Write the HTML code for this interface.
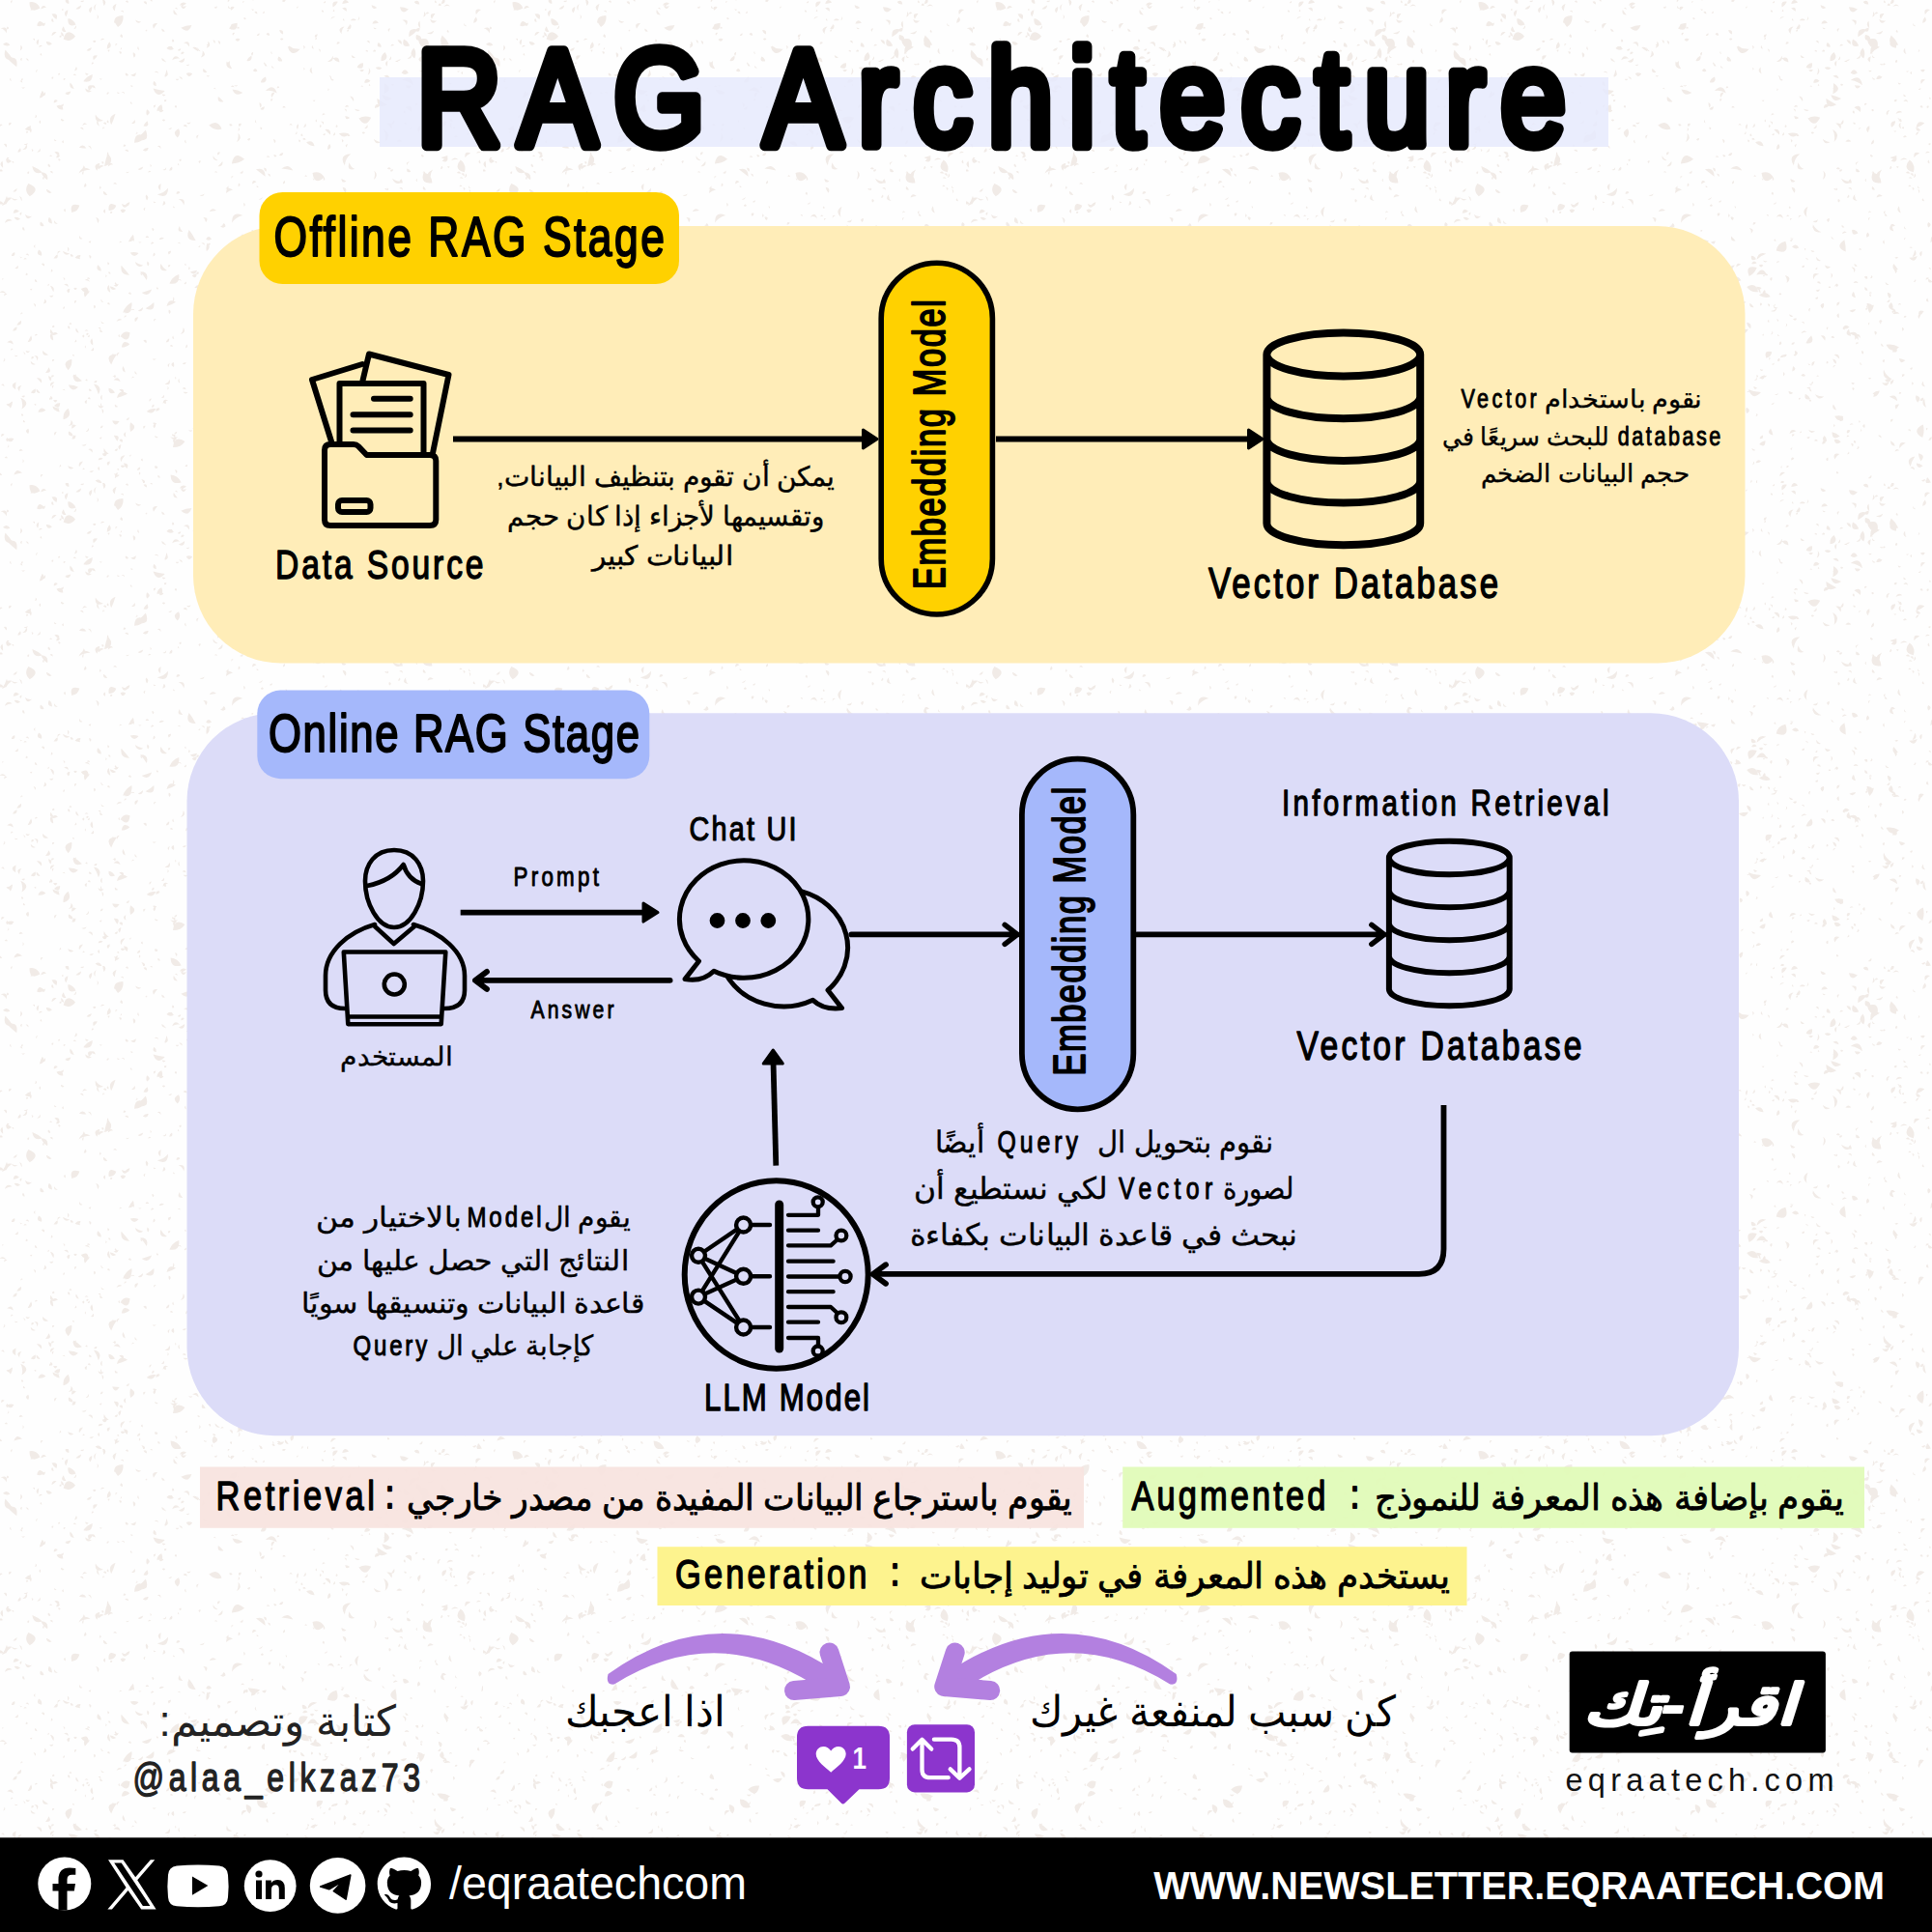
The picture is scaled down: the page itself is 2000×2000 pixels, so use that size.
<!DOCTYPE html>
<html lang="en">
<head>
<meta charset="utf-8">
<title>RAG Architecture</title>
<style>
html,body{margin:0;padding:0;background:#fefefe;}
body{width:2000px;height:2000px;overflow:hidden;font-family:"Liberation Sans", sans-serif;}
svg{display:block;font-family:"Liberation Sans", sans-serif;}
text{white-space:pre;}
</style>
</head>
<body>
<svg width="2000" height="2000" viewBox="0 0 2000 2000">
<defs><pattern id="sp" width="500" height="500" patternUnits="userSpaceOnUse"><path fill="#f1ebe7" d="M164.2 76.0Q162.7 72.1 159.6 74.9Q162.1 74.4 164.2 76.0M252.6 18.0Q252.1 21.3 254.8 19.5Q254.3 17.9 252.6 18.0M65.4 113.4Q64.6 106.6 58.4 109.8Q60.6 114.0 65.4 113.4M22.3 428.3Q21.3 431.4 24.3 430.2Q24.0 428.5 22.3 428.3M93.1 291.7Q91.4 287.6 87.6 289.9Q90.7 289.8 93.1 291.7M104.3 341.0Q104.5 337.6 101.6 339.4Q103.1 340.0 104.3 341.0M399.0 349.8Q397.7 346.1 395.4 349.2Q397.0 350.4 399.0 349.8M143.9 491.8Q147.0 490.2 144.0 488.4Q143.8 490.1 143.9 491.8M17.3 336.4Q22.8 337.3 21.9 331.8Q18.8 333.3 17.3 336.4M295.2 290.7Q298.3 292.9 299.1 289.2Q297.0 289.3 295.2 290.7M28.6 354.3Q35.2 353.1 32.1 347.2Q30.4 350.8 28.6 354.3M333.3 10.3Q332.3 13.5 335.4 12.2Q334.9 10.6 333.3 10.3M62.8 122.8Q63.1 126.6 66.5 124.8Q64.9 123.5 62.8 122.8M444.1 408.3Q439.7 406.3 439.3 411.0Q442.5 411.0 444.1 408.3M478.7 74.0Q475.9 75.8 479.0 76.9Q479.3 75.4 478.7 74.0M132.9 2.7Q132.7 -0.9 129.9 1.4Q131.1 2.7 132.9 2.7M255.9 310.2Q260.2 312.2 259.6 307.4Q256.8 307.5 255.9 310.2M399.8 197.2Q401.2 194.2 398.0 195.2Q399.6 195.6 399.8 197.2M103.1 81.1Q104.4 84.2 105.7 81.2Q104.4 81.9 103.1 81.1M179.8 10.1Q178.3 15.4 183.8 15.4Q181.6 12.9 179.8 10.1M186.0 60.6Q180.8 55.4 178.2 62.3Q181.7 59.8 186.0 60.6M50.0 169.6Q48.5 172.9 52.2 173.1Q52.3 170.6 50.0 169.6M266.4 73.7Q264.9 68.8 261.9 72.9Q263.8 75.0 266.4 73.7M347.9 132.0Q351.1 131.0 348.3 129.2Q347.2 130.4 347.9 132.0M162.4 114.7Q170.6 115.9 167.2 108.3Q162.8 110.0 162.4 114.7M367.1 112.8Q369.4 116.5 372.8 113.9Q369.9 113.7 367.1 112.8M124.7 348.3Q133.7 356.1 134.5 344.2Q127.7 341.7 124.7 348.3M181.9 108.8Q179.4 111.1 182.7 111.6Q183.5 109.9 181.9 108.8M417.1 237.9Q417.1 245.1 423.4 241.6Q421.5 237.5 417.1 237.9M390.8 376.5Q394.1 375.8 391.5 373.7Q390.2 374.8 390.8 376.5M486.2 200.1Q488.8 197.4 485.5 195.7Q486.5 197.8 486.2 200.1M74.4 454.6Q80.0 454.7 76.7 450.2Q74.7 451.9 74.4 454.6M174.0 274.6Q175.7 277.3 176.4 274.1Q175.2 274.0 174.0 274.6M465.9 213.3Q462.1 218.1 467.7 220.5Q466.3 217.0 465.9 213.3M119.1 292.0Q117.9 295.4 121.4 294.4Q120.2 293.3 119.1 292.0M224.5 294.3Q233.1 298.8 233.7 289.1Q228.7 291.0 224.5 294.3M260.3 9.3Q261.7 12.4 263.2 9.4Q261.7 10.0 260.3 9.3M239.5 362.9Q237.3 358.1 233.9 362.3Q236.6 364.0 239.5 362.9M52.8 281.7Q56.0 280.6 53.3 278.6Q52.7 280.1 52.8 281.7M381.9 456.3Q380.1 453.2 378.1 456.2Q380.0 457.0 381.9 456.3M226.9 268.7Q230.1 265.3 225.5 264.6Q224.4 267.2 226.9 268.7M125.6 274.8Q123.8 284.9 134.0 284.7Q130.0 279.6 125.6 274.8M35.9 122.2Q39.9 121.1 36.7 118.4Q37.1 120.5 35.9 122.2M356.0 330.6Q358.7 333.1 360.1 329.7Q357.8 328.8 356.0 330.6M195.7 238.1Q190.9 248.7 202.6 249.1Q199.9 243.2 195.7 238.1M167.6 97.6Q169.2 101.0 171.5 98.1Q169.6 97.8 167.6 97.6M6.1 164.5Q6.6 171.5 11.9 167.0Q9.8 163.9 6.1 164.5M485.6 53.7Q488.8 52.9 486.1 51.1Q486.6 52.5 485.6 53.7M209.5 453.5Q206.9 458.8 212.7 457.9Q211.7 455.3 209.5 453.5M351.9 43.9Q348.9 42.1 348.5 45.6Q350.8 45.9 351.9 43.9M315.3 400.0Q315.6 404.4 319.1 401.7Q317.3 400.7 315.3 400.0M166.3 273.0Q164.1 281.7 172.9 280.0Q168.8 277.3 166.3 273.0M55.3 79.4Q52.0 79.6 54.2 82.1Q55.5 81.1 55.3 79.4M143.4 249.9Q144.6 253.0 146.6 250.2Q144.9 251.0 143.4 249.9M365.0 276.2Q367.7 278.3 368.1 274.8Q366.1 274.6 365.0 276.2M219.0 247.6Q216.3 242.5 213.2 247.4Q216.0 249.9 219.0 247.6M174.1 414.2Q168.7 412.2 168.6 418.0Q170.5 415.0 174.1 414.2M63.5 33.1Q62.2 37.0 66.3 37.7Q65.9 34.8 63.5 33.1M435.7 333.8Q432.4 334.5 434.9 336.7Q434.6 335.1 435.7 333.8M229.5 133.6Q225.6 122.9 216.3 129.6Q221.7 135.7 229.5 133.6M156.4 178.0Q154.3 175.3 153.2 178.6Q154.7 177.8 156.4 178.0M253.4 1.7Q250.6 0.1 251.3 3.3Q251.8 1.7 253.4 1.7M152.1 119.6Q157.5 116.4 152.1 113.2Q150.7 116.4 152.1 119.6M438.2 193.0Q436.4 197.1 440.9 196.6Q440.2 194.3 438.2 193.0M22.5 423.5Q32.6 416.6 21.3 411.8Q24.4 417.4 22.5 423.5M260.2 255.4Q267.2 254.9 263.6 248.9Q259.7 251.1 260.2 255.4M340.6 345.7Q339.2 348.7 342.3 347.6Q340.9 347.2 340.6 345.7M419.3 282.3Q422.6 277.1 416.5 276.2Q419.5 278.5 419.3 282.3M400.6 376.8Q402.0 372.1 397.1 371.4Q398.0 374.7 400.6 376.8M125.5 35.3Q122.7 38.2 126.6 39.1Q127.7 36.8 125.5 35.3M246.8 193.2Q250.2 191.6 247.2 189.4Q246.3 191.2 246.8 193.2M39.4 71.8Q35.7 72.6 38.1 75.6Q37.7 73.3 39.4 71.8M31.9 137.5Q34.5 132.3 28.8 131.3Q30.0 134.6 31.9 137.5M231.7 231.1Q228.3 234.5 233.0 235.2Q234.1 232.6 231.7 231.1M12.5 228.3Q7.1 224.5 5.0 230.7Q8.5 228.6 12.5 228.3M475.3 105.7Q473.5 100.5 470.3 105.0Q473.0 104.2 475.3 105.7M409.4 248.3Q398.5 255.7 410.8 260.4Q410.8 254.3 409.4 248.3M13.0 0.2Q9.6 0.8 11.9 3.4Q12.3 1.7 13.0 0.2M157.0 421.8Q160.6 421.7 159.1 418.4Q156.9 419.4 157.0 421.8M357.8 449.8Q354.5 448.2 355.2 451.8Q356.8 451.2 357.8 449.8M179.3 213.3Q178.6 216.4 181.4 214.8Q180.2 214.3 179.3 213.3M467.1 123.0Q465.0 125.8 468.4 126.3Q469.1 124.2 467.1 123.0M438.5 407.4Q444.4 411.7 445.7 404.6Q441.5 404.5 438.5 407.4M26.0 367.8Q27.1 364.3 23.5 364.6Q25.5 365.6 26.0 367.8M463.9 62.1Q460.5 62.8 462.9 65.2Q464.8 64.1 463.9 62.1M131.5 326.9Q128.2 325.6 128.7 329.1Q129.7 327.5 131.5 326.9M102.7 453.8Q105.6 455.5 105.2 452.2Q103.9 452.9 102.7 453.8M68.5 95.3Q68.2 98.7 71.1 97.1Q69.6 96.5 68.5 95.3M287.4 442.1Q282.4 439.6 282.3 445.2Q284.7 443.5 287.4 442.1M167.5 29.5Q166.7 33.5 170.7 32.6Q169.6 30.6 167.5 29.5M432.6 107.1Q429.7 105.6 430.2 108.9Q432.2 109.1 432.6 107.1M424.7 437.7Q427.2 435.7 424.0 435.2Q424.2 436.5 424.7 437.7M292.6 2.0Q297.2 2.0 294.6 -1.8Q291.9 -0.8 292.6 2.0M125.0 56.1Q127.4 53.1 123.5 52.9Q123.4 54.9 125.0 56.1M321.9 382.0Q322.9 385.6 325.4 382.8Q323.6 382.9 321.9 382.0M460.0 321.4Q457.0 322.7 459.9 324.1Q460.7 322.8 460.0 321.4M58.6 33.1Q53.3 31.9 53.6 37.3Q56.5 35.7 58.6 33.1M6.6 152.5Q8.5 148.2 3.9 149.0Q5.1 150.9 6.6 152.5M119.5 117.8Q111.0 121.1 115.2 129.2Q117.9 123.7 119.5 117.8M335.5 210.9Q338.6 212.7 338.9 209.1Q337.7 210.9 335.5 210.9M168.3 212.8Q173.4 211.6 169.8 207.8Q168.7 210.2 168.3 212.8M102.4 482.9Q99.6 485.3 102.9 487.0Q103.5 484.8 102.4 482.9M147.2 474.5Q144.5 476.5 147.7 477.4Q148.1 475.9 147.2 474.5M472.9 73.4Q474.9 76.2 475.8 73.0Q474.5 74.1 472.9 73.4M30.8 203.3Q43.3 195.2 29.3 190.0Q24.2 197.3 30.8 203.3M158.5 91.5Q162.5 103.1 170.7 94.0Q164.6 93.0 158.5 91.5M187.2 164.6Q184.0 165.3 186.7 167.1Q188.3 166.1 187.2 164.6M61.2 483.6Q64.6 483.4 62.6 480.7Q61.8 482.1 61.2 483.6M23.9 234.7Q21.7 237.8 25.4 238.8Q25.8 236.3 23.9 234.7M11.7 204.5Q14.1 209.3 18.6 206.3Q14.8 206.6 11.7 204.5M462.1 125.3Q455.7 125.8 458.0 131.7Q462.1 129.8 462.1 125.3M308.9 128.3Q305.4 130.6 308.0 133.9Q309.4 131.2 308.9 128.3M457.8 312.9Q452.0 317.6 458.6 321.0Q461.1 316.7 457.8 312.9M478.6 193.2Q476.8 190.0 475.3 193.3Q476.9 192.6 478.6 193.2M404.1 371.5Q404.4 365.3 398.5 367.0Q401.5 368.9 404.1 371.5M180.9 392.6Q183.9 391.2 181.0 389.7Q181.8 391.1 180.9 392.6M15.3 277.8Q19.9 279.6 18.6 274.8Q17.3 276.7 15.3 277.8M43.9 47.6Q41.1 45.4 40.2 48.9Q42.0 48.2 43.9 47.6M312.1 340.3Q314.0 334.7 308.2 333.8Q308.7 337.9 312.1 340.3M146.3 281.6Q144.0 284.4 147.5 285.3Q146.5 283.6 146.3 281.6M78.9 440.4Q73.2 437.6 74.4 443.8Q76.9 442.4 78.9 440.4M112.5 401.8Q112.0 409.1 118.9 406.6Q117.0 402.5 112.5 401.8M419.1 456.1Q418.2 459.4 421.4 458.2Q421.3 456.1 419.1 456.1M293.6 464.4Q290.7 462.2 289.6 465.8Q291.9 466.0 293.6 464.4M472.2 49.6Q468.2 53.9 473.5 56.2Q471.8 53.1 472.2 49.6M101.0 124.2Q98.4 128.5 103.0 130.7Q101.7 127.5 101.0 124.2M338.8 94.0Q342.0 93.4 339.6 91.2Q340.0 92.8 338.8 94.0M47.9 195.8Q48.4 201.2 53.5 199.5Q51.2 196.8 47.9 195.8M205.7 139.6Q201.6 140.3 204.1 143.7Q204.7 141.6 205.7 139.6M206.6 427.3Q199.8 435.0 209.9 436.9Q206.7 432.6 206.6 427.3M4.7 449.7Q0.8 447.6 1.2 452.0Q3.0 451.0 4.7 449.7M78.4 9.2Q83.4 10.8 84.1 5.6Q80.9 6.8 78.4 9.2M186.9 252.4Q185.8 249.3 183.9 252.0Q185.5 251.5 186.9 252.4M242.0 399.1Q238.9 408.7 248.5 405.7Q248.3 399.4 242.0 399.1M237.1 29.6Q246.2 33.7 245.6 23.8Q239.7 24.2 237.1 29.6M79.2 394.3Q82.6 394.7 81.1 391.6Q80.6 393.3 79.2 394.3M107.0 197.8Q106.4 202.6 111.2 201.9Q109.8 199.1 107.0 197.8M445.2 19.7Q447.1 27.0 452.1 21.4Q448.3 22.2 445.2 19.7M302.2 273.7Q297.6 271.1 297.3 276.4Q299.8 275.1 302.2 273.7M330.4 224.3Q331.5 221.2 328.5 222.5Q329.7 223.1 330.4 224.3M383.2 389.7Q381.3 387.0 380.4 390.2Q381.7 389.3 383.2 389.7M213.6 45.4Q214.5 48.8 217.0 46.3Q215.1 46.7 213.6 45.4M369.1 388.9Q366.8 385.4 364.4 388.8Q366.7 390.4 369.1 388.9M65.6 434.2Q75.3 431.7 70.6 422.8Q64.6 427.0 65.6 434.2M244.9 482.7Q254.4 480.4 247.0 474.0Q248.4 478.9 244.9 482.7M175.8 376.0Q171.6 377.5 175.1 380.2Q174.6 377.9 175.8 376.0M252.6 460.0Q251.2 457.0 249.6 459.9Q251.1 459.0 252.6 460.0M86.3 84.3Q95.7 86.6 95.8 76.9Q89.6 78.7 86.3 84.3M55.5 267.4Q60.8 268.6 59.5 263.3Q57.1 264.9 55.5 267.4M445.9 48.7Q434.7 43.9 436.6 55.9Q440.4 51.3 445.9 48.7M497.1 288.0Q494.2 285.9 493.4 289.4Q495.5 289.5 497.1 288.0M22.3 410.1Q24.5 413.0 26.0 409.7Q24.1 409.3 22.3 410.1M157.4 1.8Q158.3 -1.3 155.3 -0.0Q156.2 1.1 157.4 1.8M445.9 65.7Q447.4 69.0 449.7 66.3Q447.8 66.2 445.9 65.7M54.7 179.5Q54.8 176.0 51.6 177.6Q52.9 179.0 54.7 179.5M234.7 63.6Q232.9 70.7 240.2 71.2Q238.3 66.7 234.7 63.6M434.1 391.0Q435.4 394.1 437.2 391.2Q435.7 390.7 434.1 391.0M175.4 325.0Q178.2 322.5 174.9 320.6Q173.9 322.9 175.4 325.0M20.6 265.2Q20.9 268.6 23.4 266.3Q21.6 266.7 20.6 265.2M276.6 471.4Q277.3 468.1 274.3 469.5Q275.1 470.9 276.6 471.4M405.2 86.9Q405.8 90.2 408.2 87.8Q407.0 86.4 405.2 86.9M361.2 2.4Q356.3 -3.0 354.2 3.9Q357.7 3.4 361.2 2.4M113.6 51.5Q110.4 51.1 112.3 53.7Q113.6 53.0 113.6 51.5M424.3 355.1Q421.4 352.8 421.0 356.5Q422.8 356.1 424.3 355.1M129.3 324.2Q136.2 324.8 136.0 317.8Q133.1 321.5 129.3 324.2M121.0 366.4Q107.6 366.5 115.2 377.5Q117.3 371.6 121.0 366.4M121.3 456.8Q125.5 450.3 117.8 450.8Q119.3 454.0 121.3 456.8M420.3 351.8Q424.7 348.0 419.4 345.8Q420.3 348.7 420.3 351.8M104.7 309.6Q103.6 313.2 107.3 313.0Q105.4 311.8 104.7 309.6M463.2 172.1Q463.7 175.3 465.7 172.8Q464.6 171.9 463.2 172.1M349.7 367.0Q345.9 366.2 347.3 369.8Q349.4 369.2 349.7 367.0M442.0 34.3Q447.2 37.3 449.3 31.7Q445.9 33.7 442.0 34.3M58.4 20.0Q61.0 12.7 53.5 14.5Q55.0 18.1 58.4 20.0M143.1 48.0Q140.8 50.8 144.2 51.9Q143.7 49.9 143.1 48.0M11.8 126.9Q8.2 126.3 9.1 129.8Q11.5 129.3 11.8 126.9M253.8 424.5Q250.1 422.8 249.9 426.9Q252.4 426.6 253.8 424.5M171.7 354.3Q175.8 354.3 175.1 350.3Q172.6 351.6 171.7 354.3M83.2 0.9Q85.6 3.6 87.2 0.4Q85.2 0.4 83.2 0.9M246.7 397.0Q243.1 396.5 244.7 399.8Q245.4 398.1 246.7 397.0M473.9 141.8Q471.9 138.9 470.0 141.9Q471.9 142.4 473.9 141.8M43.0 396.6Q44.1 390.4 37.9 391.3Q40.5 393.9 43.0 396.6M195.2 444.9Q196.8 448.2 199.4 445.5Q197.2 445.6 195.2 444.9M450.4 248.5Q447.4 250.9 450.8 252.7Q450.9 250.6 450.4 248.5M378.6 374.0Q374.1 374.9 375.9 379.0Q378.4 377.1 378.6 374.0M330.8 372.7Q334.0 371.4 331.3 369.3Q331.8 371.1 330.8 372.7M231.5 441.2Q228.2 441.6 230.6 443.9Q232.1 442.9 231.5 441.2M78.9 78.2Q77.7 75.0 75.7 77.8Q77.3 77.8 78.9 78.2M92.3 488.1Q95.3 490.5 97.0 487.0Q94.7 487.6 92.3 488.1M490.9 394.6Q487.2 399.1 492.9 400.3Q490.7 397.9 490.9 394.6M102.8 195.8Q106.1 194.9 103.6 192.6Q103.0 194.1 102.8 195.8M317.7 230.6Q314.3 228.9 314.7 232.7Q317.0 232.8 317.7 230.6M214.6 284.0Q209.8 287.7 215.4 289.9Q217.1 286.7 214.6 284.0M389.2 352.7Q391.1 346.8 384.9 347.4Q387.4 349.8 389.2 352.7M314.6 50.9Q317.4 48.2 313.7 47.0Q314.6 48.8 314.6 50.9M213.1 230.2Q216.9 225.0 210.4 225.0Q212.8 227.1 213.1 230.2M325.5 389.4Q327.7 392.1 329.0 388.8Q327.2 388.8 325.5 389.4M75.9 387.6Q75.1 398.1 84.9 394.2Q81.0 390.1 75.9 387.6M362.3 256.6Q359.4 250.7 355.0 255.6Q358.3 258.6 362.3 256.6M103.6 340.8Q102.3 345.1 106.5 343.6Q104.9 342.3 103.6 340.8M29.4 136.6Q26.8 134.6 27.2 137.8Q28.7 137.8 29.4 136.6M174.2 133.3Q177.2 135.5 177.9 131.8Q176.3 133.1 174.2 133.3M400.5 197.3Q403.7 196.5 401.0 194.6Q400.2 195.9 400.5 197.3M235.9 279.3Q231.6 278.8 233.2 282.8Q235.6 281.8 235.9 279.3M406.8 232.8Q405.7 236.4 409.4 235.3Q408.0 234.2 406.8 232.8M426.7 133.0Q424.0 131.0 424.0 134.4Q424.9 132.8 426.7 133.0M362.4 140.4Q360.5 137.6 359.4 140.8Q361.0 141.2 362.4 140.4M323.5 178.9Q325.4 192.6 335.8 183.5Q331.4 176.5 323.5 178.9M388.7 69.9Q391.7 73.9 395.4 70.5Q392.2 68.5 388.7 69.9M327.8 123.6Q325.0 125.3 328.1 126.4Q327.8 125.0 327.8 123.6M74.4 453.7Q79.0 455.3 78.3 450.4Q75.5 451.0 74.4 453.7M333.0 443.4Q328.2 449.0 335.4 450.5Q334.8 446.7 333.0 443.4M371.5 213.7Q363.6 218.6 370.4 224.9Q369.2 219.1 371.5 213.7M247.9 29.2Q246.4 26.2 245.1 29.3Q246.6 29.6 247.9 29.2M434.3 4.5Q433.4 -1.5 428.6 2.1Q430.7 5.1 434.3 4.5M190.2 212.6Q192.8 204.8 184.7 206.2Q189.2 207.9 190.2 212.6M299.9 341.9Q305.7 349.0 309.8 340.7Q304.8 340.8 299.9 341.9M450.5 14.1Q443.5 13.6 447.0 19.8Q448.6 16.8 450.5 14.1M239.7 261.7Q235.7 259.2 234.9 263.8Q237.5 263.2 239.7 261.7M416.3 146.5Q413.5 142.5 410.4 146.4Q413.4 146.8 416.3 146.5M488.7 324.7Q484.0 325.7 486.3 329.9Q488.0 327.5 488.7 324.7M315.9 393.4Q319.5 394.5 318.9 390.8Q318.0 392.8 315.9 393.4M151.9 4.5Q152.5 0.3 148.5 1.7Q149.5 4.0 151.9 4.5M456.0 309.0Q460.1 304.1 453.8 302.7Q453.7 306.3 456.0 309.0M104.6 332.3Q104.5 335.9 107.9 334.7Q105.7 334.3 104.6 332.3M386.0 459.6Q392.0 459.3 388.5 454.4Q386.7 456.7 386.0 459.6M130.4 150.4Q127.7 148.3 127.6 151.7Q129.6 152.2 130.4 150.4M26.8 285.0Q30.1 284.9 27.8 282.5Q26.1 283.3 26.8 285.0M221.5 7.8Q224.6 10.4 224.9 6.4Q223.2 6.9 221.5 7.8M204.7 48.9Q203.8 52.8 207.7 53.2Q205.4 51.6 204.7 48.9M339.0 64.0Q345.7 64.4 344.8 57.7Q343.1 62.0 339.0 64.0M357.2 120.3Q358.2 125.5 362.1 121.9Q360.0 120.0 357.2 120.3M428.2 366.7Q430.6 364.1 427.3 363.0Q426.5 365.2 428.2 366.7M124.8 481.9Q126.7 486.0 129.3 482.4Q127.1 480.8 124.8 481.9M38.2 157.5Q42.8 158.0 41.5 153.6Q40.7 156.3 38.2 157.5M182.6 286.0Q181.0 289.6 185.0 289.0Q183.7 287.6 182.6 286.0M322.1 316.4Q325.6 315.6 322.8 313.3Q321.5 314.6 322.1 316.4M284.1 148.3Q287.3 145.0 282.8 144.1Q283.7 146.1 284.1 148.3M304.1 485.6Q298.3 487.0 301.7 491.8Q304.8 489.4 304.1 485.6M187.0 346.0Q193.2 344.2 189.7 338.8Q190.0 343.0 187.0 346.0M128.7 213.6Q134.2 214.4 134.3 208.9Q130.5 210.1 128.7 213.6M404.3 435.8Q409.9 436.6 407.5 431.4Q404.9 432.9 404.3 435.8M456.3 175.2Q459.7 174.3 457.4 171.7Q456.0 173.2 456.3 175.2M469.2 116.3Q464.9 112.7 462.5 117.8Q465.7 116.4 469.2 116.3M375.1 397.1Q378.4 396.9 376.0 394.6Q376.0 396.0 375.1 397.1M295.3 447.6Q288.5 439.5 284.3 449.3Q289.5 446.8 295.3 447.6M98.8 91.5Q97.8 86.5 93.5 89.2Q96.0 90.7 98.8 91.5M70.5 19.1Q69.2 29.0 78.5 25.5Q76.2 20.2 70.5 19.1M76.3 298.4Q77.7 301.6 79.8 298.8Q78.3 297.1 76.3 298.4M432.5 245.8Q437.0 243.9 433.5 240.5Q431.2 242.8 432.5 245.8M379.0 408.3Q382.2 415.3 388.3 410.5Q383.3 410.6 379.0 408.3M45.5 24.5Q39.9 18.4 38.2 26.5Q42.6 28.5 45.5 24.5M30.8 299.4Q32.9 301.9 33.4 298.7Q32.0 298.7 30.8 299.4M323.1 477.3Q319.2 474.7 317.5 479.1Q320.9 479.8 323.1 477.3M496.8 109.7Q493.5 109.1 495.0 112.1Q496.9 111.6 496.8 109.7M420.7 26.3Q424.1 19.3 416.5 20.7Q420.3 22.3 420.7 26.3M74.2 371.7Q63.0 374.5 70.6 383.2Q75.2 378.3 74.2 371.7M54.1 161.8Q52.4 159.0 51.3 162.1Q52.7 161.5 54.1 161.8M70.9 337.0Q68.8 339.8 72.2 340.7Q72.8 338.4 70.9 337.0M107.8 464.1Q105.9 470.6 112.7 469.9Q109.1 468.0 107.8 464.1M466.0 418.6Q459.7 418.1 462.8 423.7Q464.7 421.3 466.0 418.6M314.4 72.7Q317.0 70.7 313.8 70.1Q314.8 71.2 314.4 72.7M435.5 131.8Q432.4 132.8 435.2 134.6Q435.2 133.2 435.5 131.8M82.3 244.1Q81.1 248.7 85.5 246.9Q83.1 246.5 82.3 244.1M447.9 332.5Q444.6 333.5 447.1 335.8Q447.0 334.0 447.9 332.5M176.6 491.6Q176.8 503.0 187.7 499.4Q184.3 492.4 176.6 491.6M26.5 363.0Q28.3 367.3 31.0 363.5Q28.7 363.5 26.5 363.0M68.8 -2.0Q65.7 2.8 71.3 3.9Q71.9 0.2 68.8 -2.0M108.9 287.1Q112.1 286.1 109.3 284.3Q109.7 285.7 108.9 287.1M40.1 40.6Q35.7 43.1 39.2 46.8Q40.3 43.8 40.1 40.6M351.5 404.7Q352.0 410.0 356.3 406.8Q353.9 405.8 351.5 404.7M359.3 30.1Q365.3 30.6 362.4 25.3Q360.5 27.5 359.3 30.1M7.9 453.0Q4.7 454.8 7.5 457.2Q8.8 455.2 7.9 453.0M181.7 81.7Q183.5 84.7 185.4 81.8Q183.6 81.7 181.7 81.7M255.4 63.1Q261.6 63.8 260.3 57.6Q256.8 59.5 255.4 63.1M188.7 376.3Q191.6 378.8 192.7 375.1Q190.6 375.4 188.7 376.3M264.9 266.5Q262.3 269.2 265.6 270.9Q264.5 268.8 264.9 266.5M125.7 409.9Q128.1 407.6 124.8 407.3Q126.2 408.3 125.7 409.9M296.9 286.1Q295.8 293.5 302.5 290.3Q300.7 286.9 296.9 286.1M22.9 59.8Q19.6 61.0 22.3 63.2Q22.6 61.5 22.9 59.8M70.7 297.0Q70.4 291.9 66.2 294.8Q68.9 295.1 70.7 297.0M412.1 470.2Q415.5 470.4 413.9 467.4Q413.0 468.8 412.1 470.2M471.4 387.2Q468.1 386.9 469.9 389.7Q471.9 389.2 471.4 387.2M398.7 455.2Q400.3 461.9 405.7 457.6Q403.1 453.8 398.7 455.2M468.4 123.2Q464.9 122.7 465.9 126.1Q466.5 124.1 468.4 123.2M215.2 252.7Q217.1 255.3 217.9 252.1Q216.3 251.1 215.2 252.7M310.1 403.2Q314.2 415.5 323.1 406.1Q316.3 406.0 310.1 403.2M342.0 139.4Q342.8 133.0 336.4 134.0Q338.9 137.1 342.0 139.4M217.8 476.7Q219.2 473.6 215.9 474.2Q216.5 475.7 217.8 476.7M479.7 257.3Q478.7 254.0 476.4 256.5Q478.2 256.2 479.7 257.3M65.6 145.3Q62.7 146.9 65.7 148.3Q66.0 146.8 65.6 145.3M418.9 301.7Q414.3 306.8 420.9 308.2Q420.1 304.9 418.9 301.7M273.9 304.8Q271.0 306.5 274.1 308.0Q274.3 306.4 273.9 304.8M190.5 294.1Q193.9 294.8 192.6 291.6Q191.3 292.6 190.5 294.1M245.0 147.2Q251.7 143.3 246.4 137.6Q247.5 142.7 245.0 147.2M437.2 219.4Q434.5 217.2 434.1 220.6Q435.4 219.3 437.2 219.4M113.9 477.5Q109.5 477.8 111.3 481.8Q113.3 480.1 113.9 477.5M308.4 428.1Q313.7 424.6 307.9 421.8Q306.5 425.1 308.4 428.1M234.9 389.7Q232.4 397.5 240.3 395.2Q235.8 394.2 234.9 389.7M384.8 293.9Q384.3 290.0 380.8 292.0Q382.4 293.8 384.8 293.9M438.0 303.2Q435.6 300.8 434.7 304.1Q436.3 303.4 438.0 303.2M195.0 279.2Q198.3 278.4 195.7 276.1Q195.1 277.6 195.0 279.2M223.3 92.7Q223.4 89.4 220.8 91.5Q222.4 91.4 223.3 92.7M456.5 162.9Q461.3 166.5 463.7 161.0Q460.1 161.9 456.5 162.9M457.1 5.3Q455.2 1.8 453.5 5.4Q455.3 6.4 457.1 5.3M270.5 502.1Q273.5 497.4 268.0 496.3Q269.4 499.1 270.5 502.1M303.3 176.5Q298.5 168.5 291.4 174.6Q297.4 175.3 303.3 176.5M196.8 281.5Q201.7 286.4 204.1 279.8Q200.4 280.5 196.8 281.5M311.6 499.7Q315.0 499.3 313.0 496.4Q312.5 498.2 311.6 499.7M487.3 414.5Q491.8 416.3 491.1 411.5Q488.3 411.9 487.3 414.5M495.5 442.7Q492.2 443.3 494.8 445.4Q495.4 444.1 495.5 442.7M96.1 88.6Q88.8 87.2 92.1 93.8Q95.1 92.0 96.1 88.6M22.2 208.3Q24.0 204.6 20.1 203.1Q21.4 205.6 22.2 208.3M423.7 293.1Q421.0 289.0 418.5 293.1Q421.1 292.6 423.7 293.1M328.3 262.7Q319.7 259.9 318.6 268.8Q322.6 264.5 328.3 262.7M381.2 53.5Q380.2 50.4 378.3 53.1Q379.7 53.8 381.2 53.5M404.2 29.2Q400.1 29.5 402.4 32.9Q403.1 31.0 404.2 29.2M86.6 134.4Q86.2 130.7 82.8 132.2Q84.7 133.4 86.6 134.4M187.3 28.8Q195.0 35.7 198.4 25.9Q192.4 25.9 187.3 28.8M127.3 16.0Q113.2 17.0 122.1 28.0Q128.6 23.7 127.3 16.0M146.6 303.0Q154.1 308.2 157.1 299.6Q151.9 301.4 146.6 303.0M361.3 110.5Q358.9 106.9 357.1 110.9Q359.2 110.2 361.3 110.5M87.3 177.0Q83.3 178.3 86.2 181.3Q85.9 179.0 87.3 177.0M265.9 191.9Q264.8 194.9 267.8 193.7Q266.8 192.9 265.9 191.9M121.0 95.3Q121.8 98.5 123.9 95.9Q122.4 95.8 121.0 95.3M77.2 354.2Q80.5 354.5 78.7 351.6Q77.9 352.9 77.2 354.2M418.4 404.0Q421.1 402.0 417.9 400.9Q416.8 402.7 418.4 404.0M106.6 474.7Q103.1 472.4 101.5 476.2Q104.3 476.2 106.6 474.7M130.3 446.9Q125.6 449.9 130.4 452.7Q129.6 449.8 130.3 446.9M436.6 58.2Q430.5 60.7 435.8 64.6Q436.1 61.4 436.6 58.2M327.4 283.0Q327.2 286.4 330.2 284.7Q329.3 282.9 327.4 283.0M161.7 330.0Q158.2 329.4 159.4 332.8Q160.3 331.2 161.7 330.0M33.2 157.0Q35.9 155.0 32.7 154.3Q33.0 155.6 33.2 157.0M450.0 382.6Q447.9 393.5 458.9 392.4Q452.3 389.4 450.0 382.6M340.7 333.2Q342.3 330.2 338.9 330.4Q340.2 331.6 340.7 333.2M421.4 174.4Q420.1 179.8 425.3 177.8Q424.3 175.0 421.4 174.4M355.8 18.9Q353.5 21.2 356.7 21.6Q356.2 20.3 355.8 18.9M18.3 157.6Q23.1 157.7 21.0 153.3Q18.7 154.9 18.3 157.6M124.5 217.4Q127.3 222.8 130.2 217.5Q127.4 215.8 124.5 217.4M140.0 20.5Q141.9 25.7 146.3 22.5Q142.8 22.5 140.0 20.5M390.4 101.9Q390.2 114.3 401.1 108.3Q395.6 105.2 390.4 101.9M372.5 414.8Q374.8 417.2 375.0 413.9Q373.3 413.1 372.5 414.8M349.0 368.3Q344.7 365.6 342.6 370.3Q346.1 370.2 349.0 368.3M213.8 260.3Q219.2 256.3 214.5 251.6Q212.9 255.8 213.8 260.3M405.4 133.6Q407.6 126.5 400.3 127.6Q403.5 130.0 405.4 133.6M30.2 177.6Q26.9 177.8 29.2 180.3Q30.4 179.2 30.2 177.6M336.8 118.3Q334.0 115.7 333.5 119.5Q335.1 118.8 336.8 118.3M150.6 440.8Q146.8 440.7 148.8 443.9Q150.0 442.5 150.6 440.8M383.5 83.8Q378.8 78.9 377.1 85.4Q380.8 86.6 383.5 83.8M55.9 144.1Q56.1 147.5 58.6 145.2Q57.0 145.2 55.9 144.1M352.4 223.7Q350.2 221.1 349.3 224.3Q350.7 223.4 352.4 223.7M30.5 2.3Q30.4 14.8 41.3 8.6Q38.6 0.9 30.5 2.3M281.2 52.8Q279.0 55.5 282.4 56.0Q280.9 54.8 281.2 52.8M462.0 325.4Q464.0 319.3 457.5 319.1Q460.4 321.8 462.0 325.4M70.4 10.3Q64.8 12.5 68.3 17.4Q70.2 14.1 70.4 10.3M421.9 465.1Q426.0 465.1 423.8 461.6Q423.1 463.5 421.9 465.1M93.8 413.2Q93.2 409.8 90.7 412.2Q91.9 413.7 93.8 413.2M118.3 23.7Q125.0 23.1 121.1 17.6Q117.5 19.6 118.3 23.7M472.9 245.9Q469.6 246.3 472.0 248.5Q471.7 246.9 472.9 245.9M342.1 80.6Q342.4 84.4 345.9 83.0Q344.0 81.8 342.1 80.6M94.1 363.1Q98.4 363.8 96.7 359.8Q95.4 361.4 94.1 363.1M143.2 328.3Q137.8 328.5 140.0 333.3Q142.4 331.3 143.2 328.3M414.5 451.5Q412.0 449.2 411.6 452.5Q413.0 451.8 414.5 451.5M96.0 42.8Q98.3 45.7 99.4 42.2Q97.5 41.3 96.0 42.8M483.8 479.6Q484.9 486.7 490.6 482.3Q487.6 479.9 483.8 479.6M151.8 289.9Q154.5 281.1 145.2 281.2Q148.9 285.3 151.8 289.9M444.4 13.3Q441.6 11.1 440.7 14.5Q442.8 14.5 444.4 13.3M187.6 291.1Q187.2 287.6 184.4 289.7Q186.3 289.7 187.6 291.1M88.7 446.9Q92.7 447.1 91.8 443.1Q90.9 445.6 88.7 446.9M265.1 124.0Q262.4 126.2 265.7 127.6Q264.6 125.9 265.1 124.0M255.1 293.5Q255.3 296.9 258.1 295.0Q257.1 293.2 255.1 293.5M272.8 357.4Q275.5 361.6 277.7 357.2Q275.3 358.4 272.8 357.4M417.1 196.8Q416.6 192.3 413.1 195.1Q415.5 195.1 417.1 196.8M386.5 28.6Q387.8 31.8 389.7 28.9Q388.0 29.3 386.5 28.6M151.5 355.2Q152.7 350.8 148.4 352.2Q149.6 354.1 151.5 355.2M459.8 433.7Q455.8 433.4 457.7 437.1Q459.4 435.8 459.8 433.7M410.9 62.0Q413.9 64.7 414.7 60.7Q413.2 62.4 410.9 62.0M299.1 47.4Q297.3 55.2 304.7 52.2Q302.9 48.6 299.1 47.4M129.1 97.6Q128.8 94.0 125.5 95.6Q127.8 95.7 129.1 97.6M55.7 398.6Q52.2 399.6 54.8 402.1Q55.1 400.3 55.7 398.6M70.9 440.9Q78.4 440.1 73.4 434.5Q74.3 438.5 70.9 440.9M170.0 79.1Q175.2 76.8 172.4 71.9Q172.0 75.7 170.0 79.1M408.2 338.3Q406.5 341.5 410.1 341.2Q409.1 339.8 408.2 338.3M436.2 303.9Q433.6 306.1 436.8 307.0Q437.0 305.3 436.2 303.9M23.3 85.7Q23.2 82.2 20.3 84.1Q21.9 84.7 23.3 85.7M4.2 289.3Q2.2 286.7 1.8 289.9Q2.8 288.7 4.2 289.3M74.4 335.5Q72.9 332.5 71.4 335.5Q72.9 335.9 74.4 335.5M267.9 480.0Q266.8 471.6 260.3 477.0Q263.0 481.2 267.9 480.0M387.7 313.7Q382.0 315.5 386.6 319.4Q389.2 317.0 387.7 313.7M469.5 342.7Q472.5 340.5 469.2 338.7Q468.7 340.7 469.5 342.7M175.9 274.3Q172.7 273.8 174.5 276.5Q176.5 276.1 175.9 274.3M241.6 182.4Q238.3 181.9 239.9 184.8Q239.9 183.0 241.6 182.4M436.1 224.8Q432.6 225.6 434.9 228.3Q434.7 226.3 436.1 224.8M147.8 155.5Q152.5 158.4 153.7 153.0Q150.0 152.4 147.8 155.5M289.8 40.2Q291.9 43.0 293.5 39.9Q291.6 39.1 289.8 40.2M212.7 435.2Q215.9 436.6 215.5 433.1Q214.4 434.5 212.7 435.2M11.1 80.4Q8.6 82.9 11.9 84.2Q11.0 82.4 11.1 80.4M301.7 434.6Q306.5 431.5 301.2 429.5Q300.6 432.1 301.7 434.6M37.8 402.6Q36.9 407.1 41.5 406.9Q39.9 404.5 37.8 402.6M439.9 315.8Q430.4 316.1 435.6 324.1Q439.2 320.7 439.9 315.8M203.8 338.8Q201.1 336.9 201.5 340.2Q202.9 340.0 203.8 338.8M169.9 246.6Q166.6 244.3 164.6 247.8Q167.6 248.5 169.9 246.6M282.4 495.6Q285.0 493.3 281.8 491.9Q282.9 493.6 282.4 495.6M77.2 73.5Q81.4 72.7 79.0 69.1Q77.7 71.2 77.2 73.5M295.9 274.6Q289.1 274.7 292.6 280.4Q293.6 277.1 295.9 274.6M355.3 384.4Q361.2 382.4 356.1 378.9Q355.5 381.6 355.3 384.4M134.7 261.4Q138.8 268.4 143.5 261.9Q139.2 260.3 134.7 261.4M386.9 185.9Q392.6 181.5 387.3 176.6Q388.9 181.3 386.9 185.9M65.7 27.2Q61.4 32.7 68.4 33.0Q66.8 30.2 65.7 27.2M72.6 85.4Q71.0 91.0 76.7 92.0Q75.8 88.0 72.6 85.4M122.3 489.6Q118.4 489.2 120.2 492.7Q121.4 491.2 122.3 489.6M160.1 451.0Q160.6 454.8 163.7 452.5Q161.9 451.8 160.1 451.0M429.4 31.4Q434.8 35.0 434.6 28.5Q431.5 29.1 429.4 31.4M111.8 124.3Q109.1 126.3 112.2 127.6Q112.9 125.9 111.8 124.3M325.6 151.2Q323.8 144.0 317.1 147.3Q320.4 151.2 325.6 151.2M435.4 130.0Q429.6 132.6 433.9 137.3Q434.9 133.7 435.4 130.0M448.6 79.8Q443.9 75.7 442.3 81.8Q446.1 82.8 448.6 79.8M103.6 443.3Q107.2 443.7 106.2 440.2Q104.0 441.0 103.6 443.3M496.1 149.0Q497.9 151.8 498.8 148.6Q497.2 147.5 496.1 149.0M76.0 369.3Q78.1 366.8 74.8 366.7Q75.6 367.9 76.0 369.3M452.5 356.8Q457.4 367.1 466.0 359.6Q459.9 355.3 452.5 356.8M347.1 17.8Q343.4 16.1 342.3 20.1Q344.3 18.0 347.1 17.8M497.8 158.0Q495.2 155.2 492.9 158.4Q495.4 158.3 497.8 158.0M91.5 342.7Q89.5 339.7 87.5 342.7Q89.5 342.5 91.5 342.7M246.7 459.6Q248.7 462.3 249.6 459.0Q248.0 458.5 246.7 459.6M135.2 88.3Q135.7 91.5 137.8 89.0Q136.5 88.6 135.2 88.3M279.4 182.9Q280.8 179.5 277.2 179.7Q278.0 181.5 279.4 182.9M348.0 489.1Q342.3 487.3 342.3 493.3Q345.2 491.2 348.0 489.1M485.4 192.2Q483.9 195.6 487.5 194.8Q485.6 194.3 485.4 192.2M305.2 461.8Q301.8 461.0 302.6 464.4Q303.5 462.8 305.2 461.8M54.4 420.4Q56.1 427.8 61.7 422.7Q57.9 422.0 54.4 420.4M320.9 274.5Q323.1 278.4 325.3 274.5Q323.1 273.0 320.9 274.5M258.3 299.6Q261.1 290.4 251.8 292.7Q255.2 296.0 258.3 299.6M357.6 199.7Q360.2 194.7 354.6 193.8Q355.3 197.1 357.6 199.7M269.3 113.1Q273.8 115.1 273.8 110.2Q270.9 110.7 269.3 113.1M259.8 238.9Q262.3 241.0 262.3 237.7Q260.9 238.1 259.8 238.9M263.1 408.0Q266.4 408.0 264.4 405.4Q263.2 406.4 263.1 408.0M415.4 445.4Q410.8 443.9 412.0 448.6Q414.7 448.1 415.4 445.4M62.4 75.9Q59.2 75.1 60.7 78.0Q61.7 77.1 62.4 75.9M227.2 46.1Q229.6 42.9 225.6 41.9Q226.2 44.1 227.2 46.1M400.4 378.0Q396.9 377.4 397.8 380.8Q398.8 379.1 400.4 378.0M185.0 168.8Q182.5 171.0 185.8 171.3Q184.5 170.3 185.0 168.8M89.1 357.5Q86.2 359.2 89.3 360.7Q88.4 359.1 89.1 357.5M317.6 431.1Q321.0 430.2 318.5 427.8Q318.2 429.5 317.6 431.1M22.5 219.4Q19.1 220.4 21.4 223.1Q22.5 221.4 22.5 219.4M403.8 177.0Q406.8 178.8 407.0 175.3Q404.8 174.9 403.8 177.0M353.4 185.0Q353.8 190.7 358.5 187.4Q355.9 186.3 353.4 185.0M256.7 247.3Q261.3 258.4 269.1 249.3Q263.0 247.9 256.7 247.3M229.8 420.9Q233.0 422.1 232.4 418.7Q231.0 419.6 229.8 420.9M258.8 410.3Q253.6 409.1 253.0 414.4Q256.4 413.1 258.8 410.3M276.5 382.2Q274.0 385.2 277.4 387.0Q277.9 384.4 276.5 382.2M47.8 43.0Q49.0 49.3 53.9 45.2Q51.3 42.8 47.8 43.0M244.0 28.9Q244.4 22.2 238.8 25.9Q240.4 29.2 244.0 28.9M434.2 72.7Q435.8 76.3 437.7 72.8Q436.0 73.2 434.2 72.7M133.2 157.2Q132.3 153.4 129.2 155.8Q131.2 156.5 133.2 157.2M23.3 155.1Q29.4 155.3 27.8 149.4Q26.3 152.8 23.3 155.1M27.8 268.3Q25.8 265.4 24.3 268.5Q26.0 268.3 27.8 268.3M395.3 98.3Q398.2 107.6 406.1 101.9Q401.0 99.4 395.3 98.3M204.0 283.9Q207.3 283.3 204.9 281.0Q203.7 282.2 204.0 283.9M403.3 295.3Q399.8 292.2 399.2 296.8Q400.8 294.9 403.3 295.3M215.0 318.7Q215.4 322.7 218.8 320.6Q216.6 320.2 215.0 318.7M462.6 283.3Q465.9 278.1 459.8 277.8Q461.7 280.3 462.6 283.3M104.9 417.1Q102.6 420.0 106.1 421.2Q104.7 419.4 104.9 417.1M392.2 473.5Q388.5 475.3 392.0 477.3Q393.0 475.5 392.2 473.5M76.2 30.3Q80.1 30.0 78.6 26.3Q77.8 28.6 76.2 30.3M288.9 160.7Q292.9 162.3 293.2 158.0Q290.4 158.3 288.9 160.7M70.9 398.6Q74.4 407.0 81.0 400.7Q76.2 398.3 70.9 398.6M111.9 274.6Q114.7 272.5 111.4 271.2Q111.0 273.0 111.9 274.6M55.0 414.3Q57.3 418.5 59.4 414.2Q57.2 413.8 55.0 414.3M142.6 175.3Q147.0 177.3 148.2 172.6Q145.3 173.8 142.6 175.3M430.5 297.0Q429.5 301.0 433.5 300.7Q433.0 298.0 430.5 297.0M426.0 116.0Q427.4 107.0 419.4 111.2Q423.0 113.2 426.0 116.0M473.7 327.8Q471.3 325.4 470.7 328.8Q472.5 329.1 473.7 327.8M90.7 394.3Q90.5 391.1 88.2 393.4Q89.3 394.2 90.7 394.3M395.3 297.9Q394.2 294.8 392.7 297.7Q393.9 298.4 395.3 297.9M66.8 290.4Q68.5 287.4 65.1 287.6Q66.5 288.7 66.8 290.4M474.5 165.3Q470.2 161.2 467.0 166.3Q470.6 164.6 474.5 165.3M438.2 57.3Q437.5 60.8 440.9 59.7Q439.1 59.0 438.2 57.3M268.9 252.6Q266.0 250.9 266.5 254.2Q267.3 252.8 268.9 252.6M116.2 435.4Q119.2 443.2 123.7 436.1Q120.0 435.3 116.2 435.4M395.5 287.9Q398.8 285.2 395.5 282.6Q395.9 285.2 395.5 287.9M13.3 198.4Q17.5 199.1 17.6 194.9Q15.2 196.3 13.3 198.4M113.7 296.3Q115.2 301.9 120.2 299.0Q117.2 297.0 113.7 296.3M490.1 23.8Q496.0 22.5 492.8 17.4Q490.0 20.0 490.1 23.8M232.8 459.3Q229.2 457.7 229.0 461.6Q230.4 459.7 232.8 459.3M123.8 364.8Q119.9 365.2 121.0 369.0Q122.0 366.6 123.8 364.8M108.0 172.3Q120.2 168.3 111.6 158.8Q109.1 165.3 108.0 172.3M388.6 450.9Q384.3 455.8 390.7 457.2Q391.6 453.4 388.6 450.9M391.8 43.8Q388.5 49.1 394.8 48.6Q394.4 45.5 391.8 43.8M369.6 69.7Q376.7 73.2 376.0 65.3Q371.4 65.4 369.6 69.7M400.6 297.2Q404.9 296.0 401.5 293.2Q401.5 295.3 400.6 297.2M476.2 266.7Q482.0 273.5 484.7 265.0Q480.7 266.9 476.2 266.7M419.0 114.3Q416.2 116.3 419.3 117.7Q420.4 115.9 419.0 114.3M342.1 357.2Q346.0 356.1 343.2 353.2Q341.2 354.8 342.1 357.2M411.9 204.8Q415.5 204.7 413.9 201.5Q412.5 202.9 411.9 204.8M416.4 396.3Q417.8 399.5 419.9 396.7Q418.3 395.5 416.4 396.3M209.0 300.8Q206.4 303.1 209.7 303.9Q210.4 302.1 209.0 300.8M310.1 147.5Q312.5 145.2 309.2 144.6Q309.0 146.3 310.1 147.5M402.5 62.4Q406.3 61.7 404.6 58.3Q403.9 60.5 402.5 62.4M480.5 182.6Q481.5 178.1 477.2 179.8Q478.9 181.1 480.5 182.6M248.4 474.2Q243.0 480.6 251.3 481.6Q248.4 478.5 248.4 474.2M265.7 -0.4Q262.5 -3.7 261.5 0.8Q263.4 -0.4 265.7 -0.4M179.9 50.8Q176.6 45.1 172.4 50.1Q175.9 52.8 179.9 50.8M448.7 332.5Q445.6 329.7 445.1 333.8Q446.8 333.0 448.7 332.5M331.4 317.5Q333.6 314.4 329.8 314.4Q330.4 316.1 331.4 317.5M182.7 490.0Q184.9 486.7 181.0 486.2Q181.8 488.1 182.7 490.0M372.1 444.8Q374.5 450.4 379.0 446.3Q375.3 446.7 372.1 444.8M478.1 446.6Q477.9 443.0 474.9 444.9Q476.5 445.7 478.1 446.6M374.2 318.8Q370.6 319.9 373.2 322.7Q373.7 320.8 374.2 318.8M491.6 322.1Q484.5 319.5 486.6 326.7Q490.2 325.6 491.6 322.1M344.6 140.4Q348.4 140.3 346.3 137.1Q345.6 138.8 344.6 140.4M70.1 260.5Q73.1 257.8 69.8 255.5Q70.2 258.0 70.1 260.5M24.6 149.3Q27.5 151.7 28.9 148.3Q26.8 149.1 24.6 149.3M470.5 97.6Q470.0 101.0 473.2 99.7Q471.8 98.7 470.5 97.6M191.5 482.6Q194.4 484.3 194.0 481.0Q192.2 480.9 191.5 482.6M318.5 390.7Q321.6 389.5 318.6 387.9Q318.2 389.3 318.5 390.7M333.9 377.1Q336.8 378.9 336.7 375.5Q335.5 376.6 333.9 377.1M314.0 131.9Q318.4 131.6 316.2 127.8Q315.3 129.9 314.0 131.9M471.2 133.2Q470.9 129.9 468.7 132.4Q469.8 133.4 471.2 133.2M207.3 405.1Q208.8 402.0 205.4 402.7Q205.9 404.2 207.3 405.1M346.1 389.5Q349.1 387.2 345.9 385.1Q346.1 387.3 346.1 389.5M404.9 175.3Q403.5 171.6 400.8 174.4Q402.7 175.6 404.9 175.3M451.9 66.1Q449.2 64.2 449.6 67.5Q451.3 67.7 451.9 66.1M334.2 287.1Q330.6 288.4 333.6 290.7Q335.0 289.1 334.2 287.1M422.8 75.6Q419.2 68.8 415.6 75.6Q419.2 78.4 422.8 75.6M368.9 407.7Q366.7 414.9 374.1 413.3Q372.7 409.4 368.9 407.7M305.3 139.2Q308.9 138.9 307.0 135.9Q306.6 137.8 305.3 139.2M110.7 50.7Q117.3 48.7 113.2 43.2Q110.6 46.5 110.7 50.7M37.0 420.2Q38.3 417.2 35.2 418.4Q36.3 419.1 37.0 420.2M26.0 221.9Q27.9 229.4 33.1 223.8Q29.1 224.5 26.0 221.9M113.7 315.4Q113.5 312.0 110.8 314.1Q111.8 315.6 113.7 315.4M101.4 419.1Q103.4 425.3 107.6 420.3Q104.1 421.5 101.4 419.1M252.6 213.8Q255.4 211.5 252.0 210.1Q252.4 212.0 252.6 213.8M253.9 294.4Q256.1 298.2 258.2 294.3Q256.0 292.6 253.9 294.4M163.6 491.8Q162.5 495.1 165.9 494.4Q165.2 492.7 163.6 491.8M355.4 226.5Q352.5 224.9 353.0 228.2Q353.9 226.9 355.4 226.5M368.4 259.5Q370.9 257.2 367.6 256.7Q368.4 258.0 368.4 259.5M274.2 352.6Q284.0 362.0 286.1 348.6Q279.1 347.6 274.2 352.6M358.9 32.3Q362.0 33.3 360.6 30.4Q359.3 31.0 358.9 32.3M130.0 177.8Q132.1 180.7 133.8 177.6Q131.9 178.6 130.0 177.8M93.7 175.8Q85.5 170.3 81.4 179.4Q87.0 175.7 93.7 175.8M75.0 389.9Q79.1 392.2 78.8 387.6Q76.8 388.5 75.0 389.9M412.8 64.2Q411.1 61.2 409.1 64.1Q411.0 63.7 412.8 64.2M6.7 454.9Q11.3 460.2 14.5 454.0Q10.4 452.9 6.7 454.9M189.6 405.7Q191.8 409.1 194.6 406.1Q192.1 405.5 189.6 405.7M193.0 3.7Q188.5 0.5 185.9 5.4Q189.8 6.2 193.0 3.7M265.7 36.7Q269.1 37.7 268.5 34.3Q266.7 35.1 265.7 36.7M98.8 118.6Q97.8 128.4 106.9 124.8Q101.6 123.3 98.8 118.6M100.9 231.4Q104.8 226.9 99.1 225.0Q101.4 227.8 100.9 231.4M363.0 28.3Q364.9 25.5 361.5 25.4Q362.6 26.7 363.0 28.3M323.6 346.8Q326.4 348.5 325.9 345.3Q325.3 346.8 323.6 346.8M118.9 495.0Q122.2 494.1 119.7 491.8Q118.7 493.3 118.9 495.0M370.1 21.3Q373.6 20.1 371.5 17.0Q371.7 19.4 370.1 21.3M118.5 466.2Q121.6 468.3 122.0 464.5Q119.6 464.1 118.5 466.2M129.9 75.5Q129.1 79.9 133.1 77.9Q132.1 75.9 129.9 75.5M92.1 402.4Q91.5 406.0 94.9 404.6Q94.3 402.5 92.1 402.4M456.8 4.0Q462.7 3.3 459.6 -1.8Q457.4 0.7 456.8 4.0M298.5 400.1Q298.1 396.9 296.0 399.4Q297.3 399.7 298.5 400.1M3.0 374.4Q6.7 373.7 4.6 370.6Q4.5 372.8 3.0 374.4M323.7 103.8Q325.5 106.5 326.4 103.4Q325.1 103.7 323.7 103.8M44.0 362.9Q43.8 369.4 50.0 367.3Q46.7 365.5 44.0 362.9M380.7 77.8Q385.6 74.4 381.7 70.0Q382.5 74.1 380.7 77.8M59.9 345.4Q55.6 341.8 53.8 347.1Q57.1 347.0 59.9 345.4M321.2 460.1Q327.8 464.0 327.4 456.3Q323.4 456.7 321.2 460.1M13.1 342.5Q17.9 343.2 17.5 338.3Q14.1 339.2 13.1 342.5M221.8 352.0Q218.4 351.5 220.0 354.5Q220.2 352.8 221.8 352.0M221.1 494.3Q228.6 491.0 221.7 486.6Q217.9 490.2 221.1 494.3M374.7 136.9Q376.0 140.1 378.0 137.3Q376.5 135.9 374.7 136.9M457.7 166.7Q464.6 169.4 463.2 162.1Q460.0 163.8 457.7 166.7M53.7 411.3Q50.2 410.7 51.2 414.1Q53.5 413.7 53.7 411.3M77.6 266.7Q82.3 269.8 83.5 264.2Q79.8 263.6 77.6 266.7M345.2 482.3Q342.0 483.0 344.6 485.1Q343.9 483.5 345.2 482.3M134.3 356.2Q127.1 350.7 125.9 359.6Q130.8 359.6 134.3 356.2M371.5 376.3Q372.5 379.5 374.5 376.8Q372.9 377.1 371.5 376.3M131.6 484.9Q134.2 479.2 127.9 479.4Q128.7 482.9 131.6 484.9M152.8 31.0Q149.7 30.0 151.1 32.9Q151.4 31.5 152.8 31.0M246.5 487.5Q250.3 485.2 247.2 482.1Q247.8 484.9 246.5 487.5M152.0 207.5Q155.1 204.0 151.2 201.5Q150.0 204.7 152.0 207.5M170.9 414.1Q167.3 416.7 171.5 418.2Q172.5 416.0 170.9 414.1M334.2 139.6Q337.0 141.3 336.6 138.0Q335.0 138.3 334.2 139.6M292.3 329.8Q291.8 333.1 294.6 331.4Q293.4 330.7 292.3 329.8M324.8 284.7Q325.8 287.8 327.4 284.9Q326.0 285.5 324.8 284.7M481.0 184.2Q484.8 182.6 482.1 179.4Q481.7 181.8 481.0 184.2M262.0 53.7Q258.6 55.1 261.1 57.7Q262.4 55.9 262.0 53.7M113.1 95.7Q109.7 95.0 110.9 98.2Q112.1 97.1 113.1 95.7M434.5 21.6Q430.7 25.7 435.2 29.0Q434.9 25.3 434.5 21.6M56.1 228.3Q55.4 232.7 59.7 231.6Q57.4 230.5 56.1 228.3M116.2 219.1Q113.1 218.2 114.5 221.1Q116.4 221.0 116.2 219.1M279.2 36.5Q278.8 32.3 275.6 35.0Q276.7 37.4 279.2 36.5M428.6 49.5Q422.0 55.5 429.3 60.6Q431.6 54.9 428.6 49.5M108.3 41.0Q105.3 37.8 104.1 42.1Q105.9 40.5 108.3 41.0M227.7 157.4Q224.2 157.0 225.3 160.4Q227.6 159.8 227.7 157.4M242.7 90.2Q241.1 87.0 238.9 89.8Q240.8 90.1 242.7 90.2M371.6 269.6Q372.1 266.2 368.8 267.5Q370.6 268.0 371.6 269.6M404.3 470.0Q396.5 468.0 399.3 475.6Q400.8 471.8 404.3 470.0M112.6 294.8Q108.7 300.0 114.3 303.1Q113.6 299.0 112.6 294.8M67.2 97.0Q72.0 100.2 73.3 94.6Q69.8 94.8 67.2 97.0M8.0 474.3Q6.6 470.8 4.6 474.1Q6.3 474.4 8.0 474.3M495.3 308.6Q491.9 311.9 496.5 312.6Q496.1 310.6 495.3 308.6M114.1 479.2Q110.6 478.9 112.2 482.0Q112.3 480.1 114.1 479.2M188.7 82.4Q188.8 78.7 185.2 79.6Q186.9 81.1 188.7 82.4M279.9 354.8Q278.9 358.0 282.0 356.9Q280.5 356.4 279.9 354.8M65.0 259.8Q66.8 265.8 72.1 262.4Q68.2 262.1 65.0 259.8M293.9 228.0Q296.2 224.1 291.7 224.4Q291.2 227.2 293.9 228.0M133.3 471.7Q136.0 473.6 135.6 470.3Q135.0 471.9 133.3 471.7M150.6 141.3Q139.8 135.3 139.0 147.7Q146.7 147.9 150.6 141.3M403.4 324.3Q399.4 326.9 403.6 329.2Q404.1 326.7 403.4 324.3M396.5 447.3Q396.5 457.1 404.6 451.5Q401.1 448.3 396.5 447.3M91.8 344.9Q88.5 344.0 89.8 347.2Q91.3 346.5 91.8 344.9M38.2 373.4Q41.7 368.0 35.3 367.9Q38.4 369.7 38.2 373.4M236.2 335.9Q231.7 341.8 239.1 342.0Q239.6 338.1 236.2 335.9M120.3 212.8Q111.5 207.7 112.6 217.8Q118.5 218.5 120.3 212.8M116.0 369.5Q119.2 368.0 116.5 365.7Q116.7 367.7 116.0 369.5M108.6 132.2Q105.8 130.5 106.3 133.8Q107.0 132.3 108.6 132.2M292.0 473.9Q295.3 470.0 290.4 468.4Q292.0 470.9 292.0 473.9M242.6 7.0Q237.2 5.4 239.1 10.7Q241.9 9.8 242.6 7.0M414.4 321.8Q418.7 325.4 421.2 320.3Q417.5 319.7 414.4 321.8M148.5 130.6Q155.5 131.5 152.4 125.2Q149.7 127.3 148.5 130.6M99.7 4.0Q95.1 6.9 98.7 11.0Q97.8 7.3 99.7 4.0M86.7 346.5Q83.6 347.7 86.5 349.4Q88.1 348.1 86.7 346.5M5.5 51.6Q1.9 62.9 13.8 62.7Q10.4 56.6 5.5 51.6M158.7 208.2Q159.1 211.5 161.5 209.2Q159.9 209.3 158.7 208.2M45.0 314.6Q50.3 313.3 46.4 309.4Q46.0 312.1 45.0 314.6M240.5 92.4Q243.7 100.9 251.3 96.0Q246.4 92.6 240.5 92.4M192.0 360.4Q195.5 359.5 193.3 356.6Q192.2 358.4 192.0 360.4M95.2 350.3Q91.4 354.4 96.1 357.5Q96.6 353.8 95.2 350.3M281.1 68.0Q280.6 71.5 283.9 70.3Q282.2 69.5 281.1 68.0M125.8 211.1Q128.1 217.8 132.7 212.4Q129.1 212.7 125.8 211.1M142.7 321.8Q147.9 323.4 148.1 318.0Q145.6 320.2 142.7 321.8M331.1 131.9Q334.2 130.8 331.5 128.9Q330.5 130.3 331.1 131.9M479.6 398.7Q482.3 396.6 479.1 395.6Q478.9 397.3 479.6 398.7M42.3 25.6Q46.5 28.9 46.9 23.5Q44.5 24.4 42.3 25.6M100.9 57.4Q94.7 56.2 96.8 62.2Q99.3 60.2 100.9 57.4M389.3 52.9Q387.4 50.1 386.1 53.3Q387.8 53.8 389.3 52.9M110.7 161.1Q113.9 159.5 111.2 157.2Q110.9 159.1 110.7 161.1M466.1 466.3Q462.7 463.0 461.4 467.6Q463.7 466.5 466.1 466.3M23.0 489.6Q17.1 483.5 14.4 491.5Q18.5 489.9 23.0 489.6M31.7 373.8Q32.0 379.1 36.9 376.9Q33.7 376.4 31.7 373.8M480.4 24.1Q479.5 27.6 483.1 27.1Q481.1 26.2 480.4 24.1M80.8 263.7Q78.0 268.0 83.2 268.2Q82.0 265.9 80.8 263.7M167.4 60.1Q167.0 63.9 170.7 63.1Q169.6 61.0 167.4 60.1M447.6 453.5Q447.7 449.7 444.1 450.8Q445.8 452.2 447.6 453.5M356.6 367.4Q358.8 369.9 359.4 366.6Q357.8 366.0 356.6 367.4M167.7 124.1Q169.6 127.0 171.1 123.9Q169.4 122.8 167.7 124.1M159.5 83.8Q156.7 88.0 161.7 89.0Q162.0 85.8 159.5 83.8M433.1 288.7Q433.9 284.4 430.0 286.2Q430.4 288.8 433.1 288.7M165.3 422.2Q160.6 421.7 161.7 426.3Q163.4 424.1 165.3 422.2M190.9 54.0Q187.2 52.1 187.3 56.3Q189.9 56.4 190.9 54.0M371.4 122.6Q378.5 133.4 384.2 121.8Q377.6 118.9 371.4 122.6M404.9 129.1Q409.5 128.5 408.1 124.1Q406.2 126.4 404.9 129.1M167.0 412.0Q171.4 412.6 169.4 408.6Q169.0 410.8 167.0 412.0M465.9 371.1Q467.2 378.2 472.4 373.1Q469.3 371.4 465.9 371.1M225.4 172.3Q231.3 172.9 230.3 167.0Q228.1 169.9 225.4 172.3M124.3 51.4Q127.5 51.1 125.0 49.0Q125.5 50.4 124.3 51.4M35.2 369.6Q32.0 368.0 32.4 371.5Q34.7 371.7 35.2 369.6M150.6 319.3Q160.6 323.8 159.3 313.0Q155.4 316.8 150.6 319.3M436.1 288.2Q439.6 288.1 437.8 285.0Q436.8 286.5 436.1 288.2M209.9 438.2Q205.4 437.8 206.5 442.2Q209.5 441.4 209.9 438.2M351.4 64.6Q351.3 57.3 344.5 60.2Q347.1 63.8 351.4 64.6M213.8 49.7Q219.7 47.4 215.5 42.6Q215.5 46.4 213.8 49.7M370.3 401.0Q372.6 404.0 374.5 400.8Q372.4 400.9 370.3 401.0M355.7 463.5Q352.3 463.5 354.2 466.2Q354.4 464.6 355.7 463.5M271.0 250.8Q274.8 255.0 275.8 249.5Q273.3 249.5 271.0 250.8M397.3 97.3Q408.2 92.3 397.9 86.0Q398.1 91.7 397.3 97.3M460.6 104.7Q464.0 106.4 463.4 102.7Q461.1 102.5 460.6 104.7M257.1 468.1Q258.7 463.2 253.7 464.5Q255.4 466.3 257.1 468.1M302.7 129.7Q301.3 126.6 299.4 129.4Q301.1 128.8 302.7 129.7M2.5 166.6Q-1.9 170.5 3.1 173.7Q3.3 170.1 2.5 166.6M91.7 303.8Q91.9 294.5 83.8 299.1Q86.5 303.4 91.7 303.8M354.2 356.2Q357.4 358.0 357.9 354.3Q355.4 354.1 354.2 356.2M222.2 45.0Q224.0 41.9 220.4 41.3Q221.2 43.2 222.2 45.0M319.3 496.8Q316.4 498.9 319.4 500.8Q318.7 498.8 319.3 496.8M204.8 307.7Q202.1 309.7 205.3 310.5Q204.5 309.2 204.8 307.7M159.5 251.6Q156.6 249.1 156.3 252.9Q158.0 252.5 159.5 251.6M471.3 234.3Q470.0 237.6 473.5 237.2Q471.7 236.2 471.3 234.3M352.1 482.8Q349.3 480.8 349.2 484.2Q351.0 484.1 352.1 482.8M192.7 76.0Q195.7 82.2 199.2 76.3Q196.0 74.5 192.7 76.0M182.0 312.8Q174.3 308.5 172.5 317.1Q177.6 315.8 182.0 312.8M334.3 364.2Q325.2 362.0 328.4 370.8Q333.4 369.3 334.3 364.2M297.1 339.3Q296.0 335.6 292.9 338.0Q295.2 338.0 297.1 339.3M58.7 446.7Q54.6 447.2 56.7 450.8Q57.9 448.9 58.7 446.7M180.1 448.3Q183.0 450.3 183.3 446.8Q181.7 447.4 180.1 448.3M166.6 189.9Q161.1 193.2 166.1 197.2Q166.2 193.6 166.6 189.9M182.8 454.1Q177.1 454.0 180.1 458.9Q180.5 456.0 182.8 454.1M344.5 12.1Q347.8 11.9 345.4 9.6Q345.4 11.0 344.5 12.1M25.8 133.8Q32.5 137.7 31.8 130.0Q28.4 131.2 25.8 133.8M459.1 39.8Q452.2 48.1 462.8 49.8Q464.3 43.5 459.1 39.8M195.8 48.6Q196.9 40.8 190.0 44.5Q194.2 44.7 195.8 48.6M29.3 63.5Q30.2 60.1 26.6 60.7Q28.4 61.7 29.3 63.5M93.0 301.6Q84.5 299.6 87.9 307.7Q90.6 304.7 93.0 301.6M193.2 126.7Q195.6 130.5 197.7 126.6Q195.5 127.4 193.2 126.7M88.1 75.4Q88.8 79.0 91.8 76.8Q90.2 75.5 88.1 75.4M19.9 218.8Q14.9 213.9 13.7 220.8Q17.1 220.7 19.9 218.8M162.8 201.3Q173.9 207.0 174.1 194.6Q169.7 200.0 162.8 201.3M86.8 193.8Q91.4 193.0 88.2 189.5Q87.2 191.5 86.8 193.8M4.5 399.9Q4.2 396.0 1.1 398.2Q2.8 399.0 4.5 399.9M482.3 472.4Q472.3 474.3 477.6 483.1Q479.0 477.3 482.3 472.4M448.2 396.3Q452.3 402.4 455.6 395.9Q451.9 396.6 448.2 396.3M377.2 133.1Q381.8 133.6 380.4 129.2Q379.1 131.4 377.2 133.1M457.7 36.4Q452.4 48.1 465.2 46.5Q462.7 40.6 457.7 36.4M451.7 292.1Q451.6 296.6 455.5 294.4Q453.1 294.1 451.7 292.1M138.8 59.8Q142.3 56.2 137.9 53.9Q137.2 57.0 138.8 59.8M323.9 46.9Q321.1 49.5 324.8 50.7Q324.0 48.9 323.9 46.9M191.5 456.9Q180.2 449.9 179.0 463.1Q186.9 463.4 191.5 456.9M376.5 229.0Q380.7 232.4 382.1 227.2Q379.6 229.2 376.5 229.0M372.2 72.6Q374.8 76.2 376.9 72.3Q374.5 71.4 372.2 72.6M65.0 319.8Q68.3 319.6 66.2 317.1Q65.4 318.4 65.0 319.8M47.4 424.8Q42.1 419.6 39.4 426.6Q43.8 427.3 47.4 424.8M361.6 168.2Q358.2 177.1 367.5 175.1Q363.0 173.0 361.6 168.2M91.7 250.7Q94.2 252.8 94.2 249.5Q92.6 249.2 91.7 250.7M126.7 457.7Q127.9 453.1 123.5 454.9Q124.2 457.3 126.7 457.7M312.9 264.7Q312.0 271.2 317.9 268.2Q316.5 264.9 312.9 264.7M340.2 373.9Q344.0 373.9 341.8 370.8Q339.7 371.7 340.2 373.9M78.8 339.4Q77.1 343.7 81.7 344.5Q80.4 341.8 78.8 339.4M246.4 135.7Q249.6 134.1 246.7 132.1Q247.2 134.0 246.4 135.7M438.6 178.5Q434.3 191.0 447.5 189.2Q447.1 180.5 438.6 178.5M192.2 272.5Q189.6 274.6 192.9 275.0Q192.2 273.8 192.2 272.5M318.7 276.9Q305.7 273.8 310.8 286.1Q316.4 283.0 318.7 276.9M273.9 433.0Q274.0 428.2 269.3 429.5Q270.5 432.8 273.9 433.0M123.3 486.9Q123.1 483.6 120.9 486.0Q122.0 486.7 123.3 486.9M56.0 420.0Q62.1 424.6 62.2 416.9Q58.4 417.0 56.0 420.0M355.0 1.2Q357.2 3.8 358.2 0.6Q356.5 0.5 355.0 1.2M1.8 213.0Q10.1 210.8 7.0 202.7Q5.4 208.4 1.8 213.0M89.9 414.0Q85.5 415.7 89.4 418.3Q90.0 416.2 89.9 414.0M160.0 482.4Q160.3 486.5 163.5 484.0Q162.5 481.6 160.0 482.4M56.2 372.1Q53.0 371.2 54.3 374.2Q56.3 374.0 56.2 372.1M495.2 493.9Q491.9 499.9 498.8 499.7Q497.6 496.4 495.2 493.9M178.7 448.9Q177.0 451.7 180.3 451.2Q179.9 449.8 178.7 448.9M403.5 81.2Q402.2 75.6 397.4 78.8Q400.2 80.5 403.5 81.2M7.5 30.5Q10.6 29.2 7.6 27.6Q6.5 29.0 7.5 30.5M121.6 44.9Q118.2 44.8 119.9 47.7Q120.3 46.0 121.6 44.9M333.4 418.2Q336.4 420.0 336.6 416.6Q335.3 417.9 333.4 418.2M35.5 42.2Q37.2 39.3 34.0 40.0Q35.0 40.9 35.5 42.2M256.6 467.0Q253.3 467.3 255.6 469.6Q257.3 468.7 256.6 467.0M352.2 213.5Q351.0 216.6 354.0 215.3Q353.5 214.0 352.2 213.5M79.2 311.1Q75.7 311.1 77.4 314.1Q79.0 313.0 79.2 311.1M360.1 254.5Q357.1 252.3 356.6 256.1Q358.0 254.5 360.1 254.5M450.8 0.2Q448.5 2.7 451.8 3.3Q452.0 1.6 450.8 0.2M496.6 165.6Q494.0 168.0 497.3 169.4Q497.6 167.4 496.6 165.6M213.6 78.0Q215.6 81.3 217.1 77.8Q215.4 78.8 213.6 78.0M253.1 244.2Q251.1 240.7 249.2 244.3Q251.1 243.9 253.1 244.2M468.3 407.1Q466.6 404.3 465.6 407.4Q467.0 408.0 468.3 407.1M349.6 293.1Q356.1 287.4 347.8 285.0Q350.6 288.7 349.6 293.1M163.0 24.0Q156.1 23.4 159.0 29.7Q160.8 26.7 163.0 24.0M350.8 138.3Q356.0 144.7 361.4 138.6Q356.1 136.8 350.8 138.3M432.8 320.4Q435.3 317.7 431.9 316.3Q432.4 318.3 432.8 320.4M334.6 2.9Q338.0 4.1 336.9 0.7Q335.9 2.0 334.6 2.9M451.2 393.7Q455.5 398.4 457.7 392.4Q454.0 390.6 451.2 393.7M284.5 95.6Q279.1 95.9 281.3 100.9Q283.2 98.5 284.5 95.6M295.8 111.3Q294.1 108.3 292.3 111.2Q294.0 111.9 295.8 111.3M93.3 267.8Q96.2 264.9 92.1 264.0Q92.4 266.0 93.3 267.8M125.2 460.0Q120.4 461.7 123.8 465.6Q125.5 463.1 125.2 460.0M411.8 240.5Q408.2 237.7 406.8 242.1Q409.2 241.0 411.8 240.5M179.5 374.8Q175.0 377.8 180.0 380.0Q180.7 377.3 179.5 374.8M335.6 316.6Q336.6 321.2 340.6 318.6Q337.6 318.8 335.6 316.6M479.7 266.1Q485.8 264.1 482.3 258.7Q481.3 262.5 479.7 266.1M56.4 395.6Q51.2 395.0 52.2 400.1Q54.5 398.0 56.4 395.6M359.5 446.3Q354.0 442.5 352.5 449.1Q355.9 447.3 359.5 446.3M485.7 92.4Q488.5 94.3 488.5 91.0Q487.2 91.9 485.7 92.4M425.6 446.8Q428.8 445.8 426.0 443.9Q426.6 445.5 425.6 446.8M451.5 217.9Q448.4 219.7 451.3 221.6Q451.3 219.8 451.5 217.9M190.6 3.8Q186.7 3.8 188.6 7.3Q190.2 5.8 190.6 3.8M95.1 7.0Q90.1 9.0 93.3 13.4Q95.8 10.6 95.1 7.0M456.1 113.7Q451.3 115.1 453.2 119.6Q454.4 116.6 456.1 113.7M321.6 298.6Q318.9 301.8 322.8 303.4Q322.2 301.0 321.6 298.6M181.5 448.9Q177.4 451.4 181.7 453.4Q181.0 451.2 181.5 448.9M292.9 190.5Q296.4 189.7 294.4 186.7Q292.8 188.3 292.9 190.5M239.3 491.9Q236.6 493.9 239.8 495.1Q240.5 493.4 239.3 491.9M419.5 272.9Q419.2 276.6 422.7 275.4Q421.6 273.5 419.5 272.9M219.8 494.8Q217.3 497.2 220.6 498.2Q219.4 496.7 219.8 494.8M45.9 182.8Q42.5 183.7 45.1 186.2Q45.8 184.5 45.9 182.8M493.1 82.4Q486.7 80.6 488.8 86.9Q490.2 83.9 493.1 82.4M440.5 179.6Q440.0 176.1 437.1 178.2Q439.1 178.1 440.5 179.6M479.5 185.1Q478.2 181.8 475.7 184.3Q477.7 184.5 479.5 185.1M423.9 167.6Q420.0 167.2 421.1 171.0Q422.0 168.9 423.9 167.6M331.1 330.7Q328.3 332.7 331.4 334.0Q331.4 332.4 331.1 330.7M415.5 185.2Q411.5 188.3 416.4 189.7Q417.0 187.3 415.5 185.2M337.2 247.2Q335.2 249.9 338.5 249.8Q338.5 248.2 337.2 247.2M128.5 320.6Q126.7 323.7 130.2 323.9Q129.1 322.4 128.5 320.6M274.1 65.6Q273.1 69.0 276.6 68.4Q275.8 66.6 274.1 65.6M272.5 305.2Q268.3 309.2 273.7 311.6Q274.8 308.1 272.5 305.2M281.7 376.9Q283.9 379.6 285.0 376.2Q283.2 375.9 281.7 376.9M51.1 306.3Q53.9 309.7 55.4 305.5Q53.3 306.4 51.1 306.3M419.8 88.3Q422.3 94.6 426.0 88.9Q422.9 88.5 419.8 88.3M414.0 340.6Q408.2 346.3 416.2 347.8Q414.7 344.4 414.0 340.6M14.0 169.2Q15.1 166.2 12.1 167.4Q13.5 167.8 14.0 169.2M141.7 144.3Q156.0 148.5 150.9 134.5Q146.1 139.2 141.7 144.3M398.6 146.9Q406.2 139.5 397.2 134.1Q400.2 140.2 398.6 146.9M460.2 273.1Q457.4 280.1 464.9 279.0Q462.8 275.9 460.2 273.1M393.5 225.8Q389.2 227.2 392.6 230.1Q394.4 228.2 393.5 225.8M123.6 346.1Q121.0 348.1 124.2 349.0Q123.8 347.5 123.6 346.1M255.0 252.6Q258.7 250.5 254.9 248.6Q255.1 250.6 255.0 252.6M107.7 171.8Q101.9 169.3 102.0 175.6Q104.2 172.7 107.7 171.8M458.1 232.5Q453.3 238.0 460.4 239.4Q459.0 236.0 458.1 232.5M408.1 47.0Q405.9 44.2 404.3 47.4Q406.3 47.6 408.1 47.0M108.9 216.6Q105.1 218.6 108.8 220.7Q109.3 218.7 108.9 216.6M301.3 311.1Q297.1 312.0 300.2 315.0Q301.9 313.3 301.3 311.1M337.2 408.2Q340.0 410.5 340.9 407.0Q339.3 408.3 337.2 408.2M205.0 255.9Q208.2 256.8 207.0 253.7Q206.5 255.2 205.0 255.9M93.2 289.1Q92.2 285.8 89.8 288.3Q91.4 289.0 93.2 289.1M413.9 7.3Q416.4 16.4 422.9 9.5Q418.7 7.3 413.9 7.3M269.4 111.6Q272.6 108.3 268.5 106.1Q268.5 108.9 269.4 111.6M324.9 186.9Q326.5 184.0 323.3 184.8Q324.6 185.4 324.9 186.9M273.9 368.1Q277.5 368.6 276.8 365.0Q275.6 366.8 273.9 368.1M42.0 124.6Q39.0 126.3 42.0 128.1Q42.2 126.3 42.0 124.6M185.4 391.8Q182.8 394.7 186.2 396.7Q185.6 394.3 185.4 391.8M53.1 344.7Q49.7 349.7 55.1 352.4Q55.4 348.2 53.1 344.7M204.5 464.9Q204.5 468.3 207.3 466.2Q206.0 465.3 204.5 464.9M224.0 218.0Q219.6 213.9 216.7 219.1Q220.3 218.5 224.0 218.0M448.8 203.1Q444.4 198.8 442.5 204.6Q445.5 203.1 448.8 203.1M277.5 433.5Q280.9 434.7 279.9 431.3Q279.4 433.2 277.5 433.5M311.4 313.8Q310.4 318.9 315.6 318.3Q314.3 315.3 311.4 313.8M366.0 105.1Q367.3 100.2 362.3 99.4Q364.1 102.3 366.0 105.1M163.2 299.8Q165.1 297.2 161.8 297.4Q161.6 299.1 163.2 299.8M153.1 275.4Q155.8 272.6 152.6 270.5Q151.5 273.1 153.1 275.4M13.7 361.1Q10.7 359.7 11.4 362.9Q12.6 362.0 13.7 361.1M62.8 259.9Q59.0 258.9 59.5 262.9Q60.8 261.0 62.8 259.9M487.3 158.6Q480.3 155.7 481.5 163.2Q483.9 160.3 487.3 158.6M54.1 19.1Q51.7 22.0 55.4 23.1Q55.7 20.8 54.1 19.1M135.3 77.5Q140.2 81.6 140.9 75.2Q138.4 77.1 135.3 77.5M279.0 209.0Q281.9 210.7 281.9 207.3Q280.2 207.7 279.0 209.0M356.5 27.4Q348.0 29.1 353.8 35.6Q352.8 30.7 356.5 27.4M187.0 62.3Q185.3 65.1 188.5 64.4Q187.0 63.8 187.0 62.3M44.2 99.5Q48.6 98.8 46.3 95.0Q45.7 97.5 44.2 99.5M118.9 418.6Q118.3 423.0 122.1 420.9Q120.5 419.8 118.9 418.6M299.3 432.9Q301.6 430.6 298.4 430.4Q298.1 431.9 299.3 432.9M139.2 246.8Q136.0 247.9 138.6 250.1Q138.6 248.4 139.2 246.8M139.5 321.2Q137.3 318.2 135.4 321.3Q137.4 320.5 139.5 321.2M256.9 250.4Q251.5 247.2 251.9 253.5Q254.1 251.4 256.9 250.4M490.8 439.5Q478.0 445.7 490.2 453.1Q492.7 446.4 490.8 439.5M105.4 500.1Q103.5 494.7 98.6 497.4Q101.4 500.3 105.4 500.1M90.2 129.0Q86.7 125.2 85.2 130.2Q87.4 128.4 90.2 129.0M331.1 54.0Q333.1 51.1 329.6 50.5Q330.9 52.0 331.1 54.0M480.6 197.1Q482.9 194.5 479.5 194.0Q479.5 195.7 480.6 197.1M198.7 285.6Q202.8 289.6 203.6 284.0Q200.7 283.3 198.7 285.6M496.4 235.5Q500.9 232.6 496.2 230.1Q494.2 232.9 496.4 235.5M418.7 439.3Q416.2 436.7 414.7 440.0Q416.7 439.5 418.7 439.3M397.8 418.4Q395.7 423.4 401.1 424.4Q399.9 421.1 397.8 418.4M106.3 169.7Q108.9 167.7 105.7 166.9Q104.9 168.5 106.3 169.7M165.7 423.5Q162.7 422.1 163.3 425.4Q164.6 424.5 165.7 423.5M187.0 6.3Q189.9 12.0 192.9 6.3Q189.9 7.2 187.0 6.3M128.2 13.1Q128.0 9.5 124.8 11.2Q126.7 11.8 128.2 13.1M141.7 486.5Q145.3 487.3 145.1 483.6Q142.6 484.2 141.7 486.5M13.8 356.6Q12.5 349.5 7.2 354.4Q10.9 354.2 13.8 356.6M270.3 134.3Q272.8 132.1 269.5 131.5Q269.0 133.2 270.3 134.3M320.0 302.2Q317.8 291.4 308.2 297.0Q312.5 303.2 320.0 302.2M183.8 51.9Q186.9 54.0 187.3 50.2Q185.3 50.4 183.8 51.9M468.6 390.6Q471.7 389.1 468.8 387.2Q469.4 389.0 468.6 390.6M308.3 405.7Q311.7 406.8 311.3 403.3Q310.3 405.0 308.3 405.7M253.1 164.8Q242.3 155.2 239.9 169.5Q247.3 169.4 253.1 164.8M88.0 485.5Q85.8 483.0 85.5 486.3Q86.8 486.1 88.0 485.5M205.6 479.2Q209.4 477.8 206.4 475.1Q206.5 477.3 205.6 479.2M154.3 245.8Q152.5 242.7 150.5 245.7Q152.4 246.2 154.3 245.8M497.2 100.6Q496.6 103.8 499.3 102.0Q498.3 101.3 497.2 100.6M423.8 352.2Q423.7 339.8 412.7 345.5Q420.1 345.8 423.8 352.2M194.0 131.4Q192.7 127.5 189.5 130.2Q191.7 131.1 194.0 131.4M205.2 53.2Q204.7 47.5 199.2 49.0Q201.8 51.7 205.2 53.2M433.8 494.9Q438.2 496.2 437.2 491.7Q435.8 493.6 433.8 494.9M464.2 415.2Q463.2 407.0 455.8 410.8Q460.4 412.4 464.2 415.2M379.0 309.0Q381.9 311.0 382.2 307.5Q380.1 307.1 379.0 309.0M284.6 496.7Q284.0 493.3 281.4 495.6Q282.6 497.5 284.6 496.7M312.5 242.1Q317.6 237.3 310.8 235.9Q313.7 238.4 312.5 242.1M158.2 437.8Q159.5 441.5 162.2 438.6Q160.4 437.1 158.2 437.8M121.0 191.0Q119.6 187.4 117.1 190.3Q119.1 190.4 121.0 191.0M293.3 473.3Q287.2 477.3 293.4 481.1Q293.2 477.2 293.3 473.3M172.8 403.5Q176.5 402.2 173.3 399.9Q174.2 401.9 172.8 403.5M132.9 250.3Q140.9 250.1 137.8 242.8Q134.7 246.1 132.9 250.3M463.1 31.1Q461.8 34.1 464.9 33.2Q464.5 31.6 463.1 31.1M288.3 58.4Q285.7 64.5 292.2 63.4Q291.8 59.7 288.3 58.4M105.7 469.8Q108.4 474.8 111.0 469.8Q108.4 468.0 105.7 469.8M47.1 386.1Q54.6 386.5 50.5 380.3Q49.2 383.5 47.1 386.1M417.7 462.3Q420.3 459.0 416.2 458.7Q416.5 460.7 417.7 462.3M136.2 127.7Q141.5 128.8 139.4 123.9Q138.3 126.3 136.2 127.7M348.4 338.6Q351.6 336.9 348.8 334.6Q349.4 336.7 348.4 338.6M139.8 384.1Q138.4 387.4 142.0 387.5Q140.8 385.9 139.8 384.1M438.2 79.8Q438.1 83.8 441.6 82.0Q439.4 81.7 438.2 79.8M126.2 330.9Q122.4 328.6 120.6 332.7Q123.4 331.6 126.2 330.9M124.6 395.1Q122.3 388.2 117.5 393.6Q121.3 392.9 124.6 395.1M192.1 144.5Q189.6 147.1 193.0 148.4Q192.2 146.5 192.1 144.5M430.6 320.0Q433.5 322.0 433.4 318.5Q432.0 319.2 430.6 320.0M282.2 430.3Q281.6 433.6 284.6 432.2Q284.0 430.5 282.2 430.3M82.3 212.6Q71.5 208.8 74.2 219.9Q81.0 219.3 82.3 212.6M184.9 63.4Q190.8 67.1 191.2 60.1Q188.3 62.2 184.9 63.4M256.0 144.8Q259.2 146.7 258.9 143.0Q256.7 142.7 256.0 144.8M240.4 483.9Q242.2 479.6 237.6 480.5Q239.0 482.2 240.4 483.9M498.0 9.9Q490.6 7.7 492.9 15.1Q494.6 11.7 498.0 9.9M375.8 235.6Q379.1 235.2 376.7 232.8Q377.0 234.5 375.8 235.6M490.5 111.4Q490.5 107.8 487.5 109.9Q488.3 111.9 490.5 111.4M317.9 182.9Q317.0 179.8 315.3 182.6Q316.6 182.9 317.9 182.9M490.4 205.3Q488.4 208.3 492.0 208.3Q491.7 206.6 490.4 205.3M272.9 212.9Q271.3 209.9 269.8 213.0Q271.4 214.4 272.9 212.9M282.3 102.3Q279.1 101.8 280.7 104.7Q282.5 104.2 282.3 102.3M119.9 390.5Q118.8 387.2 116.4 389.8Q118.4 389.3 119.9 390.5M332.8 346.5Q336.5 345.8 334.7 342.6Q334.6 344.9 332.8 346.5M278.0 327.1Q276.4 324.2 275.4 327.3Q276.7 328.0 278.0 327.1M312.2 138.2Q310.0 140.8 313.3 141.0Q313.7 139.2 312.2 138.2M228.3 358.9Q228.6 354.9 225.0 356.6Q226.7 357.7 228.3 358.9M286.8 96.5Q282.9 85.5 275.0 94.1Q281.4 92.7 286.8 96.5M169.4 114.6Q165.8 111.3 165.1 116.1Q167.7 116.6 169.4 114.6M360.0 148.9Q356.1 149.7 358.8 152.6Q359.2 150.7 360.0 148.9M383.2 283.8Q374.8 280.8 377.4 289.3Q378.4 284.6 383.2 283.8M438.3 17.8Q442.7 15.4 439.0 12.0Q439.3 15.0 438.3 17.8M389.0 274.5Q390.8 280.6 395.1 275.9Q391.8 276.1 389.0 274.5M235.7 2.2Q239.1 0.6 236.1 -1.6Q235.8 0.3 235.7 2.2M367.8 335.5Q368.2 331.9 364.9 333.4Q366.7 334.0 367.8 335.5M155.6 173.1Q158.3 171.1 155.2 169.9Q156.0 171.4 155.6 173.1M363.8 57.0Q363.9 61.1 367.9 59.8Q366.0 58.1 363.8 57.0M135.0 446.9Q143.4 442.0 135.0 437.2Q134.0 442.0 135.0 446.9M129.4 471.2Q122.5 472.1 125.5 478.3Q126.6 474.3 129.4 471.2M215.9 447.2Q212.3 448.0 214.4 451.0Q216.3 449.5 215.9 447.2M135.0 105.0Q134.1 108.2 137.3 107.2Q135.9 106.4 135.0 105.0M288.9 224.8Q292.2 223.6 289.4 221.3Q289.3 223.1 288.9 224.8M460.5 392.9Q455.7 393.8 457.5 398.3Q460.3 396.4 460.5 392.9M297.7 47.9Q301.8 60.6 310.7 50.7Q303.8 51.0 297.7 47.9M268.7 418.6Q270.4 415.6 266.9 415.6Q267.3 417.4 268.7 418.6M210.7 490.8Q211.8 494.2 214.5 491.8Q212.4 492.0 210.7 490.8M72.8 263.0Q72.5 266.9 76.1 265.3Q75.2 263.1 72.8 263.0M60.5 110.0Q65.1 112.7 66.1 107.5Q63.3 108.8 60.5 110.0M476.7 165.6Q468.7 175.2 480.8 178.3Q483.3 170.5 476.7 165.6M61.6 426.5Q61.2 421.0 55.8 422.3Q57.5 426.0 61.6 426.5M52.3 394.4Q55.0 390.1 50.1 389.2Q50.1 392.3 52.3 394.4M23.7 466.4Q21.0 463.0 19.7 467.1Q21.6 466.4 23.7 466.4M271.7 13.6Q274.9 14.5 273.4 11.6Q272.5 12.6 271.7 13.6M488.4 477.4Q494.3 471.3 485.9 469.3Q486.0 473.7 488.4 477.4M7.2 463.6Q10.7 463.1 8.6 460.2Q8.8 462.3 7.2 463.6M460.3 135.3Q461.8 138.3 463.1 135.2Q461.7 135.8 460.3 135.3M71.0 446.5Q69.7 452.1 75.5 451.3Q74.9 447.4 71.0 446.5M-0.1 208.2Q-1.0 213.1 3.4 210.9Q2.6 208.3 -0.1 208.2M369.0 21.0Q365.6 17.3 362.7 21.3Q365.9 21.5 369.0 21.0M401.3 62.8Q397.1 65.3 400.7 68.7Q401.2 65.7 401.3 62.8M329.3 285.4Q324.6 273.9 318.2 284.5Q323.9 283.1 329.3 285.4M9.5 163.6Q6.8 161.6 7.1 164.9Q8.9 165.4 9.5 163.6M242.0 442.9Q247.0 439.7 242.4 435.9Q240.9 439.3 242.0 442.9M101.2 274.3Q98.6 279.9 104.8 280.6Q104.6 276.5 101.2 274.3M401.1 488.1Q400.4 491.3 403.4 489.9Q402.8 488.3 401.1 488.1M321.2 391.3Q326.6 394.6 326.9 388.2Q323.5 388.8 321.2 391.3M292.2 244.6Q290.9 250.3 296.6 249.3Q294.4 246.9 292.2 244.6M217.6 279.8Q214.8 277.8 214.7 281.2Q216.8 281.8 217.6 279.8M48.0 7.5Q43.7 3.9 42.4 9.4Q45.1 8.3 48.0 7.5M120.5 3.9Q113.8 6.4 118.7 11.5Q119.2 7.6 120.5 3.9M29.3 443.7Q24.6 446.2 29.1 449.0Q30.7 446.4 29.3 443.7M233.5 195.3Q237.7 196.2 236.2 192.2Q235.6 194.4 233.5 195.3M295.0 490.2Q294.1 494.8 298.7 495.0Q297.6 492.0 295.0 490.2M31.9 406.4Q38.1 409.1 36.7 402.5Q33.6 403.7 31.9 406.4M48.5 294.9Q51.1 297.0 51.2 293.6Q50.2 295.0 48.5 294.9M117.1 170.3Q112.6 166.5 111.8 172.4Q114.1 170.4 117.1 170.3M363.3 159.3Q350.1 160.0 356.9 171.4Q357.5 164.0 363.3 159.3M202.4 311.0Q204.5 315.0 208.0 312.2Q205.3 311.2 202.4 311.0M89.4 153.4Q86.1 148.0 81.8 152.7Q85.5 153.8 89.4 153.4M139.2 390.6Q136.7 388.4 136.4 391.7Q137.6 390.6 139.2 390.6M97.4 64.9Q94.3 63.5 94.9 66.8Q96.2 65.8 97.4 64.9M241.0 196.5Q234.2 191.6 234.1 199.9Q237.1 197.3 241.0 196.5M489.3 259.8Q485.4 262.2 488.5 265.6Q490.3 262.9 489.3 259.8M179.3 347.6Q176.9 350.1 180.3 351.0Q179.6 349.4 179.3 347.6M342.5 270.9Q339.5 268.9 339.0 272.5Q340.6 271.3 342.5 270.9M105.8 408.6Q102.0 411.5 105.8 414.3Q105.4 411.4 105.8 408.6M170.6 397.6Q177.0 399.7 175.8 393.0Q174.1 396.5 170.6 397.6M21.5 83.8Q25.0 83.5 23.0 80.6Q22.2 82.1 21.5 83.8M118.3 490.0Q119.5 496.3 123.8 491.7Q120.9 491.6 118.3 490.0M421.6 60.5Q426.4 61.6 426.0 56.8Q424.5 59.4 421.6 60.5M101.9 408.2Q106.7 399.5 97.0 397.5Q100.3 402.5 101.9 408.2M44.5 490.9Q40.9 490.6 42.3 493.9Q43.4 492.4 44.5 490.9M466.4 125.4Q467.9 122.2 464.3 122.3Q465.9 123.5 466.4 125.4M438.6 55.5Q437.3 52.4 435.6 55.3Q437.1 55.8 438.6 55.5M362.9 448.1Q366.1 448.5 364.1 445.9Q363.7 447.1 362.9 448.1M72.2 298.7Q67.1 299.8 70.9 303.5Q72.6 301.4 72.2 298.7M52.6 340.8Q50.1 346.0 55.9 345.7Q53.9 343.4 52.6 340.8M67.9 81.4Q64.9 80.1 65.9 83.3Q67.1 82.6 67.9 81.4M200.4 400.7Q203.1 402.8 203.3 399.4Q201.3 398.9 200.4 400.7M380.2 265.7Q379.7 271.1 385.0 270.1Q381.9 268.7 380.2 265.7M436.1 160.0Q435.7 163.5 439.0 162.1Q438.2 160.2 436.1 160.0M398.0 441.9Q401.1 440.7 398.2 439.1Q398.2 440.5 398.0 441.9M170.5 79.7Q175.6 78.5 172.8 74.0Q172.0 77.0 170.5 79.7M258.4 377.5Q263.6 370.2 254.9 368.1Q254.0 373.8 258.4 377.5M378.9 278.6Q382.0 279.9 381.2 276.6Q380.2 277.8 378.9 278.6M40.8 101.4Q48.4 99.9 43.9 93.7Q41.6 97.3 40.8 101.4M267.6 206.3Q271.2 207.8 271.9 204.0Q270.1 205.7 267.6 206.3M333.1 321.9Q337.9 324.0 339.4 318.9Q336.8 321.6 333.1 321.9M118.2 391.2Q121.4 389.8 118.7 387.7Q118.2 389.4 118.2 391.2M450.7 372.0Q447.0 373.1 450.1 375.4Q451.4 373.9 450.7 372.0M339.3 155.1Q344.4 153.4 341.1 149.1Q338.5 151.6 339.3 155.1M345.9 226.0Q343.6 218.3 338.7 224.7Q342.8 222.9 345.9 226.0M447.4 355.4Q446.2 358.8 449.9 358.7Q449.2 356.6 447.4 355.4M406.0 184.8Q409.7 193.4 417.4 188.1Q411.1 188.4 406.0 184.8M283.5 160.1Q283.4 163.8 286.5 161.7Q285.5 159.9 283.5 160.1M280.4 220.7Q276.3 220.1 278.3 223.7Q280.7 223.2 280.4 220.7M364.1 411.9Q360.9 411.3 362.6 414.1Q363.4 413.0 364.1 411.9M492.2 412.6Q487.9 418.1 493.9 421.8Q492.4 417.3 492.2 412.6M30.0 264.8Q29.4 261.2 26.5 263.4Q28.4 263.8 30.0 264.8M370.4 343.9Q366.5 340.5 364.4 345.3Q367.1 343.3 370.4 343.9M231.5 309.6Q235.7 311.0 234.5 306.7Q232.1 307.1 231.5 309.6M242.2 88.1Q244.5 90.9 246.2 87.7Q244.3 88.9 242.2 88.1M175.3 176.7Q179.5 176.5 178.0 172.6Q175.4 173.8 175.3 176.7M166.5 153.9Q166.8 149.2 162.8 151.5Q165.3 151.6 166.5 153.9M266.0 362.4Q265.5 374.3 276.9 370.7Q274.4 362.6 266.0 362.4M266.2 478.9Q268.4 481.3 268.6 478.1Q267.3 478.1 266.2 478.9M175.4 293.6Q186.7 295.3 185.2 284.0Q178.1 286.5 175.4 293.6M12.4 204.7Q3.5 203.0 6.0 211.7Q8.3 207.4 12.4 204.7M352.2 325.3Q352.6 329.6 356.2 327.2Q354.1 326.4 352.2 325.3M78.0 37.4Q68.8 27.8 65.6 40.6Q73.2 44.3 78.0 37.4M461.4 266.5Q463.6 269.4 465.0 266.1Q463.1 265.6 461.4 266.5M420.3 200.9Q414.8 206.7 422.6 208.0Q419.3 205.2 420.3 200.9M270.5 286.6Q267.4 284.6 266.5 288.2Q268.5 287.4 270.5 286.6M296.0 215.8Q298.6 213.8 295.4 213.2Q296.1 214.4 296.0 215.8M399.2 430.7Q403.5 438.9 408.3 431.0Q403.8 429.5 399.2 430.7M183.5 10.0Q183.8 6.7 181.0 8.5Q182.5 8.8 183.5 10.0M38.9 346.7Q36.4 344.5 36.2 347.8Q37.4 347.1 38.9 346.7M158.4 239.2Q160.8 236.7 157.4 236.0Q157.0 237.9 158.4 239.2M89.5 52.3Q94.0 53.9 94.8 49.3Q91.7 49.9 89.5 52.3M334.8 187.0Q337.9 185.3 335.0 183.3Q334.8 185.2 334.8 187.0M344.3 304.4Q342.2 301.8 341.5 305.0Q343.1 305.9 344.3 304.4M498.4 279.5Q499.6 276.3 496.4 277.3Q497.7 278.1 498.4 279.5M347.2 498.8Q343.7 496.2 343.2 500.5Q345.7 500.9 347.2 498.8M103.1 168.8Q95.7 170.5 100.2 176.7Q103.4 173.4 103.1 168.8M313.3 463.9Q314.0 467.6 317.3 465.9Q315.3 464.9 313.3 463.9M11.9 265.0Q16.5 265.4 15.1 260.9Q12.1 261.9 11.9 265.0M178.4 312.6Q181.9 310.5 179.4 307.3Q179.3 310.1 178.4 312.6M161.1 438.9Q156.7 439.9 159.7 443.3Q161.6 441.5 161.1 438.9M56.1 388.8Q53.1 387.0 53.0 390.5Q55.2 390.9 56.1 388.8M457.3 456.3Q456.5 461.4 461.7 461.7Q460.6 458.1 457.3 456.3M335.2 316.1Q338.0 318.0 337.9 314.6Q337.0 316.2 335.2 316.1M168.4 175.7Q172.6 177.8 172.1 173.2Q171.1 175.6 168.4 175.7M207.9 59.4Q215.2 57.4 209.6 52.2Q210.3 56.2 207.9 59.4M10.4 46.8Q7.2 41.6 3.0 46.1Q6.5 48.3 10.4 46.8M62.1 161.3Q58.1 159.0 58.3 163.6Q60.9 163.6 62.1 161.3M286.7 494.4Q291.5 497.9 294.3 492.6Q290.2 492.2 286.7 494.4M111.1 161.5Q111.9 165.4 115.2 163.1Q112.8 163.0 111.1 161.5M498.4 251.2Q503.1 248.5 499.1 244.9Q498.7 248.1 498.4 251.2M369.4 355.3Q379.3 356.4 375.1 347.3Q371.2 350.6 369.4 355.3M204.6 282.3Q201.3 282.4 203.6 284.8Q203.2 283.2 204.6 282.3M358.9 368.3Q363.2 364.8 358.0 363.1Q357.6 365.8 358.9 368.3M112.8 281.1Q111.3 284.1 114.6 283.5Q114.2 282.0 112.8 281.1M464.7 85.4Q465.2 88.8 468.0 86.7Q466.5 85.7 464.7 85.4M243.8 456.5Q244.0 449.6 238.0 453.1Q241.0 454.6 243.8 456.5M-1.6 488.7Q-1.8 492.7 2.2 491.8Q0.7 489.7 -1.6 488.7M65.6 8.7Q62.5 9.8 65.5 11.2Q65.0 10.0 65.6 8.7M2.6 129.2Q-0.3 127.4 -0.1 130.8Q1.1 129.8 2.6 129.2M6.5 418.6Q9.5 422.7 12.7 418.7Q9.6 416.9 6.5 418.6M225.9 100.0Q224.5 106.9 231.4 105.3Q229.1 102.1 225.9 100.0M61.0 162.2Q62.8 155.7 56.3 157.2Q58.8 159.6 61.0 162.2M31.3 10.2Q36.9 11.7 37.5 6.0Q33.7 7.0 31.3 10.2M85.0 175.0Q89.5 174.8 86.8 171.2Q86.0 173.2 85.0 175.0M467.7 126.6Q463.1 130.5 468.4 133.4Q466.7 130.2 467.7 126.6M399.3 93.3Q400.6 90.2 397.3 91.0Q398.1 92.3 399.3 93.3M425.9 374.7Q424.1 377.7 427.6 377.8Q426.2 376.5 425.9 374.7M33.4 172.0Q34.4 181.7 43.6 178.3Q39.1 174.1 33.4 172.0M266.3 14.4Q266.7 10.9 263.4 12.2Q264.3 14.1 266.3 14.4M117.5 295.6Q121.5 298.5 122.9 293.7Q120.2 294.6 117.5 295.6M276.2 421.3Q272.8 409.1 264.0 418.3Q269.6 421.9 276.2 421.3M482.0 486.4Q481.3 481.7 477.3 484.2Q479.9 484.8 482.0 486.4M393.5 109.2Q388.3 105.7 387.9 112.0Q391.4 111.9 393.5 109.2M496.2 501.8Q498.5 497.4 493.5 497.1Q493.2 500.4 496.2 501.8M225.2 179.1Q224.1 175.8 221.8 178.4Q223.7 178.0 225.2 179.1M243.0 33.9Q239.6 33.5 241.0 36.7Q242.2 35.5 243.0 33.9M192.5 67.1Q194.8 69.7 196.0 66.4Q194.3 66.9 192.5 67.1M157.7 371.2Q159.6 374.2 161.8 371.3Q159.7 371.8 157.7 371.2M186.5 198.9Q183.1 196.4 182.4 200.5Q185.1 201.3 186.5 198.9M318.2 296.7Q319.7 302.8 323.7 298.0Q321.1 296.8 318.2 296.7M292.9 35.6Q294.1 30.9 289.2 31.1Q289.7 34.4 292.9 35.6M185.0 133.2Q177.3 136.9 183.8 142.4Q187.9 138.3 185.0 133.2M59.8 104.0Q55.6 101.5 55.7 106.4Q58.4 106.1 59.8 104.0M394.6 63.3Q403.7 61.7 398.6 54.0Q393.7 57.4 394.6 63.3M237.3 128.4Q238.1 131.8 240.6 129.4Q239.3 127.8 237.3 128.4M288.6 431.2Q286.3 428.6 285.2 431.9Q286.8 431.2 288.6 431.2M458.8 364.3Q465.9 365.9 463.0 359.2Q460.1 361.1 458.8 364.3M24.2 434.8Q22.9 437.9 26.1 437.0Q25.5 435.6 24.2 434.8M232.0 235.5Q230.8 232.1 228.2 234.5Q229.9 236.1 232.0 235.5M472.7 458.5Q465.4 456.4 466.3 463.9Q469.0 460.6 472.7 458.5M370.2 452.8Q372.6 455.8 373.6 452.1Q371.9 452.4 370.2 452.8M50.9 224.8Q47.8 230.1 53.8 231.5Q54.5 227.2 50.9 224.8M7.6 304.6Q4.1 302.1 4.1 306.4Q5.6 305.0 7.6 304.6M437.5 113.2Q437.4 116.4 439.9 114.4Q439.4 112.5 437.5 113.2M179.1 358.8Q178.1 355.5 175.7 357.9Q177.3 358.8 179.1 358.8M220.5 161.3Q220.2 166.7 225.5 166.1Q222.2 164.6 220.5 161.3M127.2 323.5Q138.0 323.8 136.3 313.1Q129.7 316.5 127.2 323.5M376.8 232.4Q376.0 241.9 385.4 240.3Q379.9 237.7 376.8 232.4M303.0 311.9Q305.0 316.5 307.5 312.2Q305.2 312.6 303.0 311.9M130.5 434.6Q134.1 436.0 133.7 432.1Q131.8 432.9 130.5 434.6M6.5 303.7Q3.4 299.0 -0.6 302.9Q3.0 302.6 6.5 303.7M326.1 41.2Q329.4 40.6 327.0 38.3Q326.7 39.8 326.1 41.2M480.8 291.9Q484.3 292.3 483.0 289.1Q481.9 290.5 480.8 291.9M290.9 494.9Q290.5 490.5 286.5 492.3Q288.6 493.8 290.9 494.9M358.8 11.7Q359.5 5.9 354.2 8.5Q356.3 10.3 358.8 11.7M316.6 144.7Q315.5 141.4 313.2 144.0Q314.7 145.2 316.6 144.7M248.1 179.0Q252.1 181.1 251.5 176.6Q250.1 178.2 248.1 179.0M36.5 317.7Q38.3 314.5 34.7 313.9Q35.5 315.8 36.5 317.7M342.3 81.9Q344.5 78.7 340.6 78.3Q342.2 79.7 342.3 81.9M110.2 129.1Q110.2 125.0 106.9 127.4Q108.4 128.7 110.2 129.1M461.9 233.8Q458.0 229.2 456.5 235.0Q459.3 234.8 461.9 233.8M2.9 176.9Q1.2 173.8 -0.8 176.7Q1.0 178.2 2.9 176.9M382.8 44.8Q383.1 40.9 379.6 42.5Q381.1 43.8 382.8 44.8M14.7 224.9Q16.8 229.7 21.1 226.8Q18.4 224.2 14.7 224.9M269.9 85.2Q277.3 86.6 275.0 79.4Q270.8 80.8 269.9 85.2M42.0 229.5Q39.6 235.0 45.5 234.0Q44.8 230.9 42.0 229.5M6.6 34.4Q8.7 26.3 0.8 29.2Q5.0 30.4 6.6 34.4M289.3 90.5Q287.3 87.9 286.6 91.2Q288.1 91.5 289.3 90.5M321.6 454.1Q326.0 454.9 324.8 450.6Q322.0 451.2 321.6 454.1M243.5 40.9Q246.4 44.7 248.5 40.4Q245.8 39.0 243.5 40.9M249.7 162.4Q245.1 158.7 242.9 164.1Q246.3 163.3 249.7 162.4M358.3 115.7Q359.9 112.6 356.4 112.8Q357.7 114.0 358.3 115.7M483.4 132.1Q483.6 137.2 488.2 135.0Q486.6 132.1 483.4 132.1M391.9 23.7Q388.0 18.4 385.3 24.4Q388.6 24.6 391.9 23.7M90.6 349.0Q93.9 349.5 92.4 346.5Q91.3 347.6 90.6 349.0M353.2 246.0Q354.6 249.2 356.8 246.5Q354.8 247.2 353.2 246.0M496.3 455.9Q500.6 456.0 499.4 451.9Q497.0 453.2 496.3 455.9M324.2 304.8Q329.3 304.7 326.9 300.1Q324.4 301.8 324.2 304.8M418.4 126.5Q418.5 130.0 421.3 128.0Q420.2 126.6 418.4 126.5M246.4 270.8Q241.7 270.1 243.4 274.5Q245.3 272.9 246.4 270.8M249.7 127.7Q245.5 127.3 247.6 131.0Q250.0 130.2 249.7 127.7M486.7 136.4Q482.8 136.4 483.6 140.2Q485.3 138.4 486.7 136.4M477.1 381.9Q479.7 383.9 479.9 380.6Q478.0 380.2 477.1 381.9M432.5 30.6Q422.3 27.7 423.4 38.2Q428.9 35.5 432.5 30.6M258.5 433.7Q263.0 442.9 268.4 434.2Q263.6 432.1 258.5 433.7M328.9 35.5Q325.0 35.0 326.1 38.8Q328.7 38.2 328.9 35.5M97.6 319.4Q100.5 317.4 97.4 315.8Q96.6 317.6 97.6 319.4M485.1 416.8Q490.4 411.7 483.5 409.2Q482.2 413.5 485.1 416.8M404.5 312.4Q400.1 312.7 401.8 316.7Q404.3 315.2 404.5 312.4M386.9 143.8Q388.5 150.7 394.6 146.9Q390.1 146.9 386.9 143.8M477.1 179.8Q475.7 175.9 472.9 178.9Q475.0 179.4 477.1 179.8M231.8 478.3Q229.7 475.6 228.3 478.8Q230.0 477.9 231.8 478.3M252.1 399.9Q254.5 402.1 254.5 398.8Q252.9 398.2 252.1 399.9M23.9 324.1Q21.2 322.2 21.3 325.6Q22.6 324.9 23.9 324.1M206.5 202.0Q210.2 204.5 211.8 200.4Q209.4 202.0 206.5 202.0M275.3 177.7Q277.2 174.2 273.3 173.6Q273.0 176.3 275.3 177.7M150.4 214.7Q147.1 215.9 149.7 218.2Q150.1 216.5 150.4 214.7M354.4 147.5Q357.1 145.2 353.7 144.0Q354.0 145.8 354.4 147.5M42.4 54.8Q40.2 57.3 43.5 57.4Q42.8 56.2 42.4 54.8M453.1 115.8Q451.7 118.8 454.9 118.1Q454.4 116.7 453.1 115.8M128.0 407.0Q128.8 401.2 123.3 403.3Q125.6 405.3 128.0 407.0M49.1 186.2Q50.5 178.4 42.5 178.3Q44.4 183.5 49.1 186.2M432.1 184.8Q429.1 186.5 432.1 188.3Q431.4 186.5 432.1 184.8M338.7 259.6Q353.1 264.1 348.4 249.8Q340.1 251.3 338.7 259.6M17.2 69.2Q19.6 56.6 7.3 60.4Q12.1 65.0 17.2 69.2M210.4 71.0Q208.8 76.6 214.4 74.8Q212.9 72.4 210.4 71.0M436.8 149.4Q441.2 148.7 439.4 144.6Q437.5 146.6 436.8 149.4M279.2 163.1Q277.9 159.7 275.7 162.6Q277.5 162.3 279.2 163.1M94.5 154.7Q94.9 150.7 90.9 150.8Q93.3 152.2 94.5 154.7M352.5 249.1Q355.2 251.2 355.7 247.8Q354.0 248.1 352.5 249.1M212.0 253.7Q211.6 250.1 208.3 251.7Q210.3 252.4 212.0 253.7M95.8 468.6Q96.3 463.2 91.2 465.1Q94.0 466.2 95.8 468.6M14.8 367.5Q16.3 370.7 18.4 367.9Q16.5 368.3 14.8 367.5M332.7 307.2Q327.7 299.8 320.9 305.6Q326.4 309.4 332.7 307.2M246.5 428.7Q244.0 426.0 242.3 429.3Q244.4 429.0 246.5 428.7M36.7 288.7Q34.6 292.0 38.5 292.2Q38.1 290.2 36.7 288.7M357.4 474.1Q353.7 472.3 354.3 476.4Q356.7 476.3 357.4 474.1M379.7 300.4Q382.6 304.1 383.9 299.6Q381.9 300.2 379.7 300.4M414.5 338.4Q409.5 334.3 407.5 340.5Q411.5 341.1 414.5 338.4M325.0 269.6Q327.0 273.3 329.6 270.0Q327.2 270.7 325.0 269.6M418.0 40.6Q414.9 49.6 424.2 47.6Q422.5 42.8 418.0 40.6M209.1 298.3Q205.5 291.9 201.3 297.9Q205.2 298.4 209.1 298.3M204.2 345.8Q207.4 348.1 207.7 344.2Q205.7 344.7 204.2 345.8M175.4 50.1Q179.0 51.3 178.0 47.6Q177.2 49.3 175.4 50.1M373.8 401.6Q371.8 404.7 375.4 405.5Q374.8 403.5 373.8 401.6M365.0 223.1Q361.4 222.0 361.7 225.7Q363.0 224.0 365.0 223.1M243.4 353.0Q241.4 350.1 239.6 353.2Q241.6 354.5 243.4 353.0M139.8 271.1Q141.7 278.3 148.3 274.7Q143.5 274.1 139.8 271.1M427.1 258.7Q425.8 255.6 424.1 258.5Q425.6 258.4 427.1 258.7M450.9 221.1Q450.3 224.6 453.7 223.5Q452.7 221.8 450.9 221.1M45.8 275.6Q46.9 271.4 42.9 272.9Q43.9 274.7 45.8 275.6M88.1 91.4Q89.4 97.8 94.9 94.2Q91.3 93.3 88.1 91.4M233.4 439.8Q238.5 436.7 234.0 432.7Q232.9 436.1 233.4 439.8M185.9 234.1Q182.1 240.2 189.2 240.1Q186.4 237.8 185.9 234.1M151.7 426.1Q158.2 430.1 161.4 423.1Q155.7 422.1 151.7 426.1M100.5 20.0Q103.5 17.5 100.5 14.9Q101.2 17.5 100.5 20.0M178.9 43.8Q181.8 42.0 178.7 40.6Q177.4 42.3 178.9 43.8M427.9 88.2Q425.9 75.9 415.6 82.9Q422.6 83.6 427.9 88.2M161.3 108.4Q157.5 108.5 159.6 111.7Q160.9 110.3 161.3 108.4M415.7 46.0Q416.7 40.9 411.5 41.4Q412.9 44.4 415.7 46.0M203.8 358.4Q198.8 359.4 202.2 363.1Q201.6 360.3 203.8 358.4M318.7 272.3Q315.3 268.4 313.1 273.1Q316.1 273.9 318.7 272.3M36.6 253.3Q33.5 254.9 36.4 256.9Q36.0 255.1 36.6 253.3M448.1 175.6Q437.6 180.6 446.7 187.9Q444.0 181.4 448.1 175.6M468.2 315.4Q466.3 312.5 464.7 315.5Q466.4 315.2 468.2 315.4M453.3 312.7Q456.9 313.6 456.4 309.9Q454.4 310.7 453.3 312.7M430.1 438.9Q426.3 441.0 430.1 443.1Q431.0 441.0 430.1 438.9M229.0 452.0Q234.5 457.2 236.7 449.9Q232.4 449.2 229.0 452.0M334.9 198.4Q332.3 200.8 335.6 201.8Q336.3 199.9 334.9 198.4M425.9 350.1Q425.4 343.9 420.2 347.3Q423.9 347.1 425.9 350.1M220.3 484.1Q220.4 487.5 223.4 485.7Q222.3 483.9 220.3 484.1M16.5 395.6Q9.1 399.1 16.2 403.2Q16.1 399.4 16.5 395.6M222.5 473.2Q222.7 478.3 227.8 477.6Q224.9 475.7 222.5 473.2M53.8 414.0Q55.6 410.7 51.9 410.0Q52.2 412.3 53.8 414.0M158.5 265.5Q162.3 264.3 159.5 261.5Q158.2 263.3 158.5 265.5M171.8 64.6Q171.1 61.1 168.1 63.1Q170.1 63.4 171.8 64.6M236.4 5.9Q235.1 9.4 238.7 8.5Q236.9 7.7 236.4 5.9M372.9 397.4Q374.8 400.3 376.4 397.2Q374.6 397.4 372.9 397.4M492.3 127.5Q484.7 123.8 483.6 132.2Q488.6 131.1 492.3 127.5M441.6 346.8Q444.6 344.0 440.8 342.4Q439.9 344.8 441.6 346.8M55.3 302.2Q57.3 297.1 52.0 295.8Q53.4 299.2 55.3 302.2M136.0 304.4Q135.1 301.1 132.7 303.6Q134.1 305.2 136.0 304.4M140.3 138.5Q143.5 139.2 141.9 136.3Q141.7 137.8 140.3 138.5M176.2 452.3Q180.4 457.5 184.1 451.9Q180.2 453.7 176.2 452.3M126.3 250.9Q124.3 248.2 123.3 251.5Q124.7 250.6 126.3 250.9M60.5 164.3Q59.8 167.5 62.7 166.0Q62.3 164.2 60.5 164.3M22.4 399.0Q15.4 400.3 20.3 405.4Q19.7 401.7 22.4 399.0M23.2 479.5Q26.3 477.4 23.3 475.2Q24.1 477.4 23.2 479.5M322.8 69.6Q318.0 73.6 323.6 76.4Q322.3 73.1 322.8 69.6M432.5 314.1Q433.3 321.2 438.7 316.6Q436.4 313.5 432.5 314.1M259.4 295.7Q258.1 292.3 255.5 294.8Q257.4 295.5 259.4 295.7M107.6 6.2Q111.6 1.5 106.1 -1.2Q106.4 2.5 107.6 6.2M292.4 291.3Q294.8 288.4 291.0 288.1Q291.4 289.8 292.4 291.3M392.6 338.6Q389.3 338.8 391.5 341.4Q392.2 340.1 392.6 338.6M148.2 501.7Q152.6 497.2 146.4 496.2Q148.4 498.5 148.2 501.7M313.9 481.4Q317.4 480.4 315.3 477.4Q315.2 479.6 313.9 481.4M403.4 209.5Q406.4 207.3 403.0 206.1Q401.8 208.0 403.4 209.5M382.8 86.7Q380.3 88.8 383.6 89.1Q382.6 88.1 382.8 86.7M238.0 62.9Q233.0 66.0 238.1 68.9Q237.7 65.9 238.0 62.9M13.0 415.5Q7.1 417.8 10.9 422.8Q13.1 419.5 13.0 415.5M70.1 482.3Q71.8 487.4 76.2 484.3Q73.2 483.3 70.1 482.3M488.0 72.8Q491.1 76.6 492.7 72.0Q490.1 71.0 488.0 72.8M375.8 90.3Q375.6 87.0 373.4 89.5Q374.8 89.3 375.8 90.3M84.3 460.6Q87.7 463.4 89.7 459.5Q87.2 460.8 84.3 460.6M192.6 403.3Q191.6 399.2 188.7 402.2Q190.7 402.5 192.6 403.3M20.8 52.6Q25.1 49.8 21.3 46.4Q21.5 49.5 20.8 52.6M106.2 427.9Q108.7 424.9 105.4 422.9Q105.6 425.4 106.2 427.9M127.5 379.0Q124.9 383.6 129.7 385.6Q129.3 382.1 127.5 379.0M349.8 1.7Q342.7 0.8 344.8 7.6Q348.2 5.4 349.8 1.7M466.5 324.6Q462.6 320.8 459.3 325.0Q462.9 325.3 466.5 324.6M207.5 166.2Q204.2 166.4 206.4 168.9Q208.1 168.0 207.5 166.2M228.3 424.6Q231.4 422.7 228.2 421.0Q228.3 422.8 228.3 424.6M85.9 477.6Q80.6 478.1 82.0 483.2Q84.4 480.7 85.9 477.6M205.6 446.6Q205.0 439.3 199.1 443.5Q203.0 443.7 205.6 446.6M496.0 289.0Q495.7 294.1 500.3 291.8Q498.8 289.4 496.0 289.0M334.6 128.9Q336.3 124.9 332.0 125.8Q334.1 126.7 334.6 128.9M384.6 5.2Q385.4 10.8 390.3 8.1Q387.9 5.7 384.6 5.2M431.0 36.1Q429.0 43.7 436.4 41.0Q435.8 36.3 431.0 36.1M172.5 103.7Q169.8 101.8 170.0 105.1Q171.9 105.6 172.5 103.7M277.3 476.6Q279.2 479.6 281.2 476.6Q279.3 477.6 277.3 476.6M67.6 404.6Q66.6 401.4 64.6 404.1Q66.2 403.4 67.6 404.6M56.6 338.1Q54.8 335.4 53.9 338.5Q55.4 339.8 56.6 338.1M22.2 90.5Q24.8 93.2 25.7 89.7Q24.2 90.9 22.2 90.5M274.6 182.7Q274.7 172.5 264.9 175.3Q269.7 179.1 274.6 182.7M265.5 188.2Q261.0 185.1 261.2 190.5Q263.3 189.3 265.5 188.2M255.6 374.4Q248.8 372.3 250.4 379.2Q252.2 376.0 255.6 374.4M309.4 6.8Q306.1 6.2 307.7 9.1Q307.7 7.4 309.4 6.8M443.3 50.4Q446.5 36.3 433.0 41.3Q434.4 50.2 443.3 50.4M225.1 429.6Q226.9 425.7 222.7 426.3Q224.6 427.4 225.1 429.6M40.2 258.4Q36.6 264.0 43.1 264.7Q44.0 260.4 40.2 258.4M132.1 407.7Q123.3 401.6 120.9 412.1Q126.7 410.3 132.1 407.7M61.2 38.2Q64.1 39.7 63.5 36.5Q61.7 36.4 61.2 38.2M287.3 447.0Q279.0 441.3 275.7 450.9Q281.9 450.0 287.3 447.0M156.9 412.6Q153.3 412.6 154.9 415.8Q156.1 414.4 156.9 412.6M489.1 497.4Q492.1 500.1 493.3 496.1Q491.1 496.3 489.1 497.4M97.0 395.6Q100.3 397.6 100.5 393.7Q98.4 393.9 97.0 395.6M273.9 64.3Q271.7 66.8 275.0 66.7Q274.4 65.6 273.9 64.3M67.3 215.7Q64.6 217.9 67.8 219.4Q68.1 217.5 67.3 215.7M465.9 6.5Q462.3 2.0 459.4 7.1Q462.6 5.2 465.9 6.5M177.1 259.8Q172.4 259.4 174.7 263.6Q177.1 262.4 177.1 259.8M395.7 244.5Q395.2 248.2 398.8 247.4Q396.6 246.7 395.7 244.5M251.3 222.9Q239.8 218.0 240.1 230.5Q244.2 224.4 251.3 222.9M374.5 259.0Q375.8 262.4 378.6 260.1Q376.6 259.4 374.5 259.0"/></pattern></defs>
<rect width="2000" height="2000" fill="#fefefe"/>
<rect width="2000" height="2000" fill="url(#sp)"/>
<rect x="393" y="80" width="1272" height="72" fill="#e6eafd" fill-opacity="0.85"/>
<g transform="translate(431.5 150) scale(0.86 1)">
<text x="0.0" y="0.0" font-size="141" textLength="346.5" lengthAdjust="spacing" fill="#000" stroke="#000" stroke-width="11.5" stroke-linejoin="round">RAG</text>
<text x="418.0" y="0.0" font-size="141" textLength="965.1" lengthAdjust="spacing" fill="#000" stroke="#000" stroke-width="11.5" stroke-linejoin="round">Architecture</text>
</g>
<rect x="200" y="234" width="1606.5" height="452.6" rx="91" fill="#ffedb8"/>
<rect x="268.5" y="199" width="434.5" height="95" rx="24" fill="#ffd100"/>
<text transform="translate(283.5 265.4) scale(0.78 1)" font-size="57" textLength="518.6" lengthAdjust="spacing" fill="#000" stroke="#000" stroke-width="2.0" stroke-linejoin="round">Offline RAG Stage</text>
<g fill="none" stroke="#000" stroke-width="6" stroke-linejoin="round" stroke-linecap="round">
<path d="M343 457L323 393L375 377"/>
<path d="M375.5 394L382 366.5L464.5 388L448 469"/>
<path d="M351.5 457V397H438.5V470"/>
<path d="M387 412.7H424.7M365.5 429.3H424.7M365.5 445.6H424.7"/>
<path d="M336 466Q336 460 342 460H366Q369 460 371 462L379.6 471H445Q451.3 471 451.3 477V538Q451.3 544 445 544H342Q336 544 336 538Z"/>
<rect x="350" y="518" width="33.5" height="12" rx="4"/>
</g>
<text transform="translate(285.0 598.5) scale(0.8 1)" font-size="42" textLength="269.4" lengthAdjust="spacing" fill="#000" stroke="#000" stroke-width="1.43" stroke-linejoin="round">Data Source</text>
<path d="M469 454.5H895.5" stroke="#000" stroke-width="6" fill="none"/>
<path d="M893.5 445.0L908 454.5L893.5 464.0Z" fill="#000" stroke="#000" stroke-width="3" stroke-linejoin="round"/>
<path d="M1031 454.5H1294.5" stroke="#000" stroke-width="6" fill="none"/>
<path d="M1292.5 445.0L1307 454.5L1292.5 464.0Z" fill="#000" stroke="#000" stroke-width="3" stroke-linejoin="round"/>
<text x="864.5" y="502.6" font-size="28" textLength="350.5" lengthAdjust="spacingAndGlyphs" fill="#000" stroke="#000" stroke-width="0.4" stroke-linejoin="round" direction="rtl" lang="ar">يمكن أن تقوم بتنظيف البيانات,</text>
<text x="853.6" y="543.6" font-size="28" textLength="328.6" lengthAdjust="spacingAndGlyphs" fill="#000" stroke="#000" stroke-width="0.4" stroke-linejoin="round" direction="rtl" lang="ar">وتقسيمها لأجزاء إذا كان حجم</text>
<text x="759.7" y="584.6" font-size="28" textLength="146.7" lengthAdjust="spacingAndGlyphs" fill="#000" stroke="#000" stroke-width="0.4" stroke-linejoin="round" direction="rtl" lang="ar">البيانات كبير</text>
<rect x="912.2" y="272.2" width="115.2" height="363.8" rx="57.6" fill="#ffd100" stroke="#000" stroke-width="5.6"/>
<g transform="translate(977.7 610) rotate(-90)">
<text transform="translate(0.0 0.0) scale(0.75 1)" font-size="46" textLength="400.0" lengthAdjust="spacing" fill="#000" stroke="#000" stroke-width="1.9" stroke-linejoin="round">Embedding Model</text>
</g>
<path d="M1311.3999999999999 367A79.4 22.5 0 1 1 1470.2 367A79.4 22.5 0 1 1 1311.3999999999999 367M1311.3999999999999 410.7A79.4 22.5 0 0 0 1470.2 410.7M1311.3999999999999 454.4A79.4 22.5 0 0 0 1470.2 454.4M1311.3999999999999 498.1A79.4 22.5 0 0 0 1470.2 498.1M1311.3999999999999 541.8A79.4 22.5 0 0 0 1470.2 541.8M1311.3999999999999 367V541.8M1470.2 367V541.8" fill="none" stroke="#000" stroke-width="8"/>
<text transform="translate(1251.0 618.6) scale(0.8 1)" font-size="43.5" textLength="375.0" lengthAdjust="spacing" fill="#000" stroke="#000" stroke-width="1.48" stroke-linejoin="round">Vector Database</text>
<text transform="translate(1512.5 422.0) scale(0.8 1)" font-size="27" textLength="97.8" lengthAdjust="spacing" fill="#000" stroke="#000" stroke-width="0.92" stroke-linejoin="round">Vector</text>
<text x="1761.7" y="422.0" font-size="26" textLength="162.3" lengthAdjust="spacingAndGlyphs" fill="#000" stroke="#000" stroke-width="0.35" stroke-linejoin="round" direction="rtl" lang="ar">نقوم باستخدام</text>
<text transform="translate(1674.8 460.6) scale(0.8 1)" font-size="27" textLength="133.2" lengthAdjust="spacing" fill="#000" stroke="#000" stroke-width="0.92" stroke-linejoin="round">database</text>
<text x="1666.0" y="460.6" font-size="26" textLength="173.2" lengthAdjust="spacingAndGlyphs" fill="#000" stroke="#000" stroke-width="0.35" stroke-linejoin="round" direction="rtl" lang="ar">للبحث سريعًا في</text>
<text x="1748.7" y="499.0" font-size="26" textLength="215.9" lengthAdjust="spacingAndGlyphs" fill="#000" stroke="#000" stroke-width="0.35" stroke-linejoin="round" direction="rtl" lang="ar">حجم البيانات الضخم</text>
<rect x="193.5" y="738.2" width="1606.5" height="748" rx="91" fill="#dcdcf8"/>
<rect x="266.3" y="714.6" width="406" height="91.6" rx="24" fill="#a5b8fb"/>
<text transform="translate(278.0 777.6) scale(0.78 1)" font-size="56" textLength="492.3" lengthAdjust="spacing" fill="#000" stroke="#000" stroke-width="2.0" stroke-linejoin="round">Online RAG Stage</text>
<g fill="none" stroke="#000" stroke-width="4.6" stroke-linejoin="round" stroke-linecap="round">
<path d="M408 880C428 880 438 895 438 912C438 935 425 960 408 960C391 960 378 935 378 912C378 895 388 880 408 880Z"/>
<path d="M380 917Q405 912 417.7 895Q422 910 436.3 915"/>
<path d="M388 957C360 965 337 985 337 1010V1025Q337 1044 357 1044"/>
<path d="M428 957C456 965 481 985 481 1010V1025Q481 1044 460 1044"/>
<path d="M388 959L407.7 977L429 959"/>
<path d="M355.8 985.5H461.3L456.7 1060.2H360.3ZM360 1052.5H457" fill="#dcdcf8"/>
<circle cx="408.3" cy="1019" r="10.5"/>
</g>
<text x="469.0" y="1103.0" font-size="27" textLength="116.6" lengthAdjust="spacingAndGlyphs" fill="#000" stroke="#000" stroke-width="0.35" stroke-linejoin="round" direction="rtl" lang="ar">المستخدم</text>
<text transform="translate(531.5 917.4) scale(0.8 1)" font-size="28" textLength="110.6" lengthAdjust="spacing" fill="#000" stroke="#000" stroke-width="0.95" stroke-linejoin="round">Prompt</text>
<path d="M476.7 944.6H668" stroke="#000" stroke-width="5.8" fill="none"/>
<path d="M666 935.1L681 944.6L666 954.1Z" fill="#000" stroke="#000" stroke-width="3" stroke-linejoin="round"/>
<path d="M693.6 1014.9H492M504 1005.9L492 1014.9L504 1023.9" stroke="#000" stroke-width="5.8" fill="none" stroke-linecap="round" stroke-linejoin="round"/>
<text transform="translate(549.5 1054.0) scale(0.8 1)" font-size="26.5" textLength="107.5" lengthAdjust="spacing" fill="#000" stroke="#000" stroke-width="0.9" stroke-linejoin="round">Answer</text>
<text transform="translate(713.5 869.7) scale(0.8 1)" font-size="36" textLength="138.8" lengthAdjust="spacing" fill="#000" stroke="#000" stroke-width="1.22" stroke-linejoin="round">Chat UI</text>
<g fill="#dcdcf8" stroke="#000" stroke-width="5" stroke-linejoin="round" stroke-linecap="round">
<path d="M830 922.8A66.7 60.8 0 0 1 857 1025L871.5 1043.6Q853 1046 841.5 1035.3A66.7 60.8 0 0 1 752.5 1009.9" fill="none"/>
<path d="M723.5 995A66.7 60.8 0 1 1 739 1005.3Q727 1017 709 1013.6Z"/>
</g>
<circle cx="742.5" cy="953" r="7.9"/><circle cx="769" cy="953" r="7.9"/><circle cx="795.3" cy="953" r="7.9"/>
<path d="M881.2 967.4H1053.2M1040.2 957.4L1053.2 967.4L1040.2 977.4" stroke="#000" stroke-width="5.6" fill="none" stroke-linecap="round" stroke-linejoin="round"/>
<rect x="1057.9" y="785.7" width="115.4" height="362.6" rx="57.7" fill="#a5b8fb" stroke="#000" stroke-width="5.8"/>
<g transform="translate(1122.9 1113.6) rotate(-90)">
<text transform="translate(0.0 0.0) scale(0.75 1)" font-size="46" textLength="398.7" lengthAdjust="spacing" fill="#000" stroke="#000" stroke-width="1.9" stroke-linejoin="round">Embedding Model</text>
</g>
<path d="M1177 967.4H1432.9M1419.9 957.4L1432.9 967.4L1419.9 977.4" stroke="#000" stroke-width="5.6" fill="none" stroke-linecap="round" stroke-linejoin="round"/>
<text transform="translate(1327.0 843.7) scale(0.8 1)" font-size="37" textLength="423.1" lengthAdjust="spacing" fill="#000" stroke="#000" stroke-width="1.26" stroke-linejoin="round">Information Retrieval</text>
<path d="M1437.8999999999999 888A62.4 17.3 0 1 1 1562.7 888A62.4 17.3 0 1 1 1437.8999999999999 888M1437.8999999999999 922.0A62.4 17.3 0 0 0 1562.7 922.0M1437.8999999999999 956.0A62.4 17.3 0 0 0 1562.7 956.0M1437.8999999999999 990.0A62.4 17.3 0 0 0 1562.7 990.0M1437.8999999999999 1024.0A62.4 17.3 0 0 0 1562.7 1024.0M1437.8999999999999 888V1024.0M1562.7 888V1024.0" fill="none" stroke="#000" stroke-width="6"/>
<text transform="translate(1342.5 1096.5) scale(0.8 1)" font-size="42" textLength="368.8" lengthAdjust="spacing" fill="#000" stroke="#000" stroke-width="1.43" stroke-linejoin="round">Vector Database</text>
<path d="M1494.5 1144V1293Q1494.5 1318.8 1469 1318.8H905" fill="none" stroke="#000" stroke-width="5.8"/>
<path d="M917 1309.2L903.5 1319L917 1328.8" fill="none" stroke="#000" stroke-width="5.8" stroke-linecap="round" stroke-linejoin="round"/>
<path d="M803.3 1206.7L800.5 1099" stroke="#000" stroke-width="5.8" fill="none"/>
<path d="M800.2 1087L810.3 1101H790.2Z" fill="#000" stroke="#000" stroke-width="3" stroke-linejoin="round"/>
<g fill="none" stroke="#000" stroke-linecap="round" stroke-linejoin="round">
<ellipse cx="803.7" cy="1319.5" rx="95" ry="97.2" stroke-width="6"/>
<path d="M806.7 1247V1396" stroke-width="9"/>
<path d="M723 1299.8L769.6 1268M723 1299.8L769.6 1321.3M723 1299.8L769.6 1374M723 1342.6L769.6 1268M723 1342.6L769.6 1321.3M723 1342.6L769.6 1374M777.6 1268H797M777.6 1321.3H797M777.6 1374H797" stroke-width="4.4"/>
<circle cx="723" cy="1299.8" r="7" fill="#dcdcf8" stroke-width="4.4"/>
<circle cx="723" cy="1342.6" r="7" fill="#dcdcf8" stroke-width="4.4"/>
<circle cx="769.6" cy="1268" r="7.5" fill="#dcdcf8" stroke-width="4.4"/>
<circle cx="769.6" cy="1321.3" r="7.5" fill="#dcdcf8" stroke-width="4.4"/>
<circle cx="769.6" cy="1374" r="7.5" fill="#dcdcf8" stroke-width="4.4"/>
<path d="M816 1257.8H847V1251M816 1273.7H847M816 1289.3H860L866 1284M816 1305.7H862.6M816 1321.5H868M816 1337.2H862.6M816 1353H860L866 1358.5M816 1368.7H847M816 1385H847V1392" stroke-width="4.3"/>
<circle cx="846.7" cy="1244.3" r="5" stroke-width="4.3"/>
<circle cx="870.9" cy="1279" r="5.4" stroke-width="4.3"/>
<circle cx="875" cy="1321.5" r="5.6" stroke-width="4.3"/>
<circle cx="870.9" cy="1363.7" r="5.4" stroke-width="4.3"/>
<circle cx="846.7" cy="1398.5" r="5" stroke-width="4.3"/>
</g>
<text transform="translate(729.0 1460.4) scale(0.8 1)" font-size="39" textLength="213.8" lengthAdjust="spacing" fill="#000" stroke="#000" stroke-width="1.33" stroke-linejoin="round">LLM Model</text>
<text x="1318.5" y="1193.2" font-size="31" textLength="182.8" lengthAdjust="spacingAndGlyphs" fill="#000" stroke="#000" stroke-width="0.4" stroke-linejoin="round" direction="rtl" lang="ar">نقوم بتحويل ال</text>
<text transform="translate(1032.6 1193.2) scale(0.8 1)" font-size="31" textLength="104.1" lengthAdjust="spacing" fill="#000" stroke="#000" stroke-width="1.05" stroke-linejoin="round">Query</text>
<text x="1019.6" y="1193.2" font-size="31" textLength="52.0" lengthAdjust="spacingAndGlyphs" fill="#000" stroke="#000" stroke-width="0.4" stroke-linejoin="round" direction="rtl" lang="ar">أيضًا</text>
<text x="1339.0" y="1241.0" font-size="31" textLength="73.4" lengthAdjust="spacingAndGlyphs" fill="#000" stroke="#000" stroke-width="0.4" stroke-linejoin="round" direction="rtl" lang="ar">لصورة</text>
<text transform="translate(1158.0 1241.0) scale(0.8 1)" font-size="31" textLength="121.6" lengthAdjust="spacing" fill="#000" stroke="#000" stroke-width="1.05" stroke-linejoin="round">Vector</text>
<text x="1146.0" y="1241.0" font-size="31" textLength="200.0" lengthAdjust="spacingAndGlyphs" fill="#000" stroke="#000" stroke-width="0.4" stroke-linejoin="round" direction="rtl" lang="ar">لكي نستطيع أن</text>
<text x="1343.5" y="1288.9" font-size="31" textLength="401.8" lengthAdjust="spacingAndGlyphs" fill="#000" stroke="#000" stroke-width="0.4" stroke-linejoin="round" direction="rtl" lang="ar">نبحث في قاعدة البيانات بكفاءة</text>
<text x="652.4" y="1269.7" font-size="29" textLength="89.9" lengthAdjust="spacingAndGlyphs" fill="#000" stroke="#000" stroke-width="0.4" stroke-linejoin="round" direction="rtl" lang="ar">يقوم ال</text>
<text transform="translate(483.4 1269.7) scale(0.8 1)" font-size="30" textLength="96.5" lengthAdjust="spacing" fill="#000" stroke="#000" stroke-width="1.02" stroke-linejoin="round">Model</text>
<text x="478.2" y="1269.7" font-size="29" textLength="151.0" lengthAdjust="spacingAndGlyphs" fill="#000" stroke="#000" stroke-width="0.4" stroke-linejoin="round" direction="rtl" lang="ar">بالاختيار من</text>
<text x="650.8" y="1314.5" font-size="29" textLength="323.0" lengthAdjust="spacingAndGlyphs" fill="#000" stroke="#000" stroke-width="0.4" stroke-linejoin="round" direction="rtl" lang="ar">النتائج التي حصل عليها من</text>
<text x="667.2" y="1359.0" font-size="29" textLength="355.3" lengthAdjust="spacingAndGlyphs" fill="#000" stroke="#000" stroke-width="0.4" stroke-linejoin="round" direction="rtl" lang="ar">قاعدة البيانات وتنسيقها سويًا</text>
<text x="614.9" y="1403.4" font-size="29" textLength="162.9" lengthAdjust="spacingAndGlyphs" fill="#000" stroke="#000" stroke-width="0.4" stroke-linejoin="round" direction="rtl" lang="ar">كإجابة علي ال</text>
<text transform="translate(365.4 1403.4) scale(0.8 1)" font-size="30" textLength="96.0" lengthAdjust="spacing" fill="#000" stroke="#000" stroke-width="1.02" stroke-linejoin="round">Query</text>
<rect x="207" y="1518.5" width="915" height="63.3" fill="#f8e3df" fill-opacity="0.93"/>
<text transform="translate(223.5 1563.3) scale(0.8 1)" font-size="43" textLength="205.6" lengthAdjust="spacing" fill="#000" stroke="#000" stroke-width="1.46" stroke-linejoin="round">Retrieval</text>
<text x="399.0" y="1561.0" font-size="40" textLength="9.0" lengthAdjust="spacingAndGlyphs" fill="#000" stroke="#000" stroke-width="2.2" stroke-linejoin="round">:</text>
<text x="1109.7" y="1563.0" font-size="37" textLength="688.7" lengthAdjust="spacingAndGlyphs" fill="#000" stroke="#000" stroke-width="0.8" stroke-linejoin="round" direction="rtl" lang="ar">يقوم باسترجاع البيانات المفيدة من مصدر خارجي</text>
<rect x="1162.2" y="1518.5" width="767.8" height="63.3" fill="#e0fbb8" fill-opacity="0.95"/>
<text transform="translate(1171.5 1563.3) scale(0.8 1)" font-size="43" textLength="251.2" lengthAdjust="spacing" fill="#000" stroke="#000" stroke-width="1.46" stroke-linejoin="round">Augmented</text>
<text x="1398.0" y="1561.0" font-size="40" textLength="9.0" lengthAdjust="spacingAndGlyphs" fill="#000" stroke="#000" stroke-width="2.2" stroke-linejoin="round">:</text>
<text x="1909.0" y="1563.3" font-size="37" textLength="486.5" lengthAdjust="spacingAndGlyphs" fill="#000" stroke="#000" stroke-width="0.8" stroke-linejoin="round" direction="rtl" lang="ar">يقوم بإضافة هذه المعرفة للنموذج</text>
<rect x="680.5" y="1601.2" width="838" height="60.8" fill="#fdf38a" fill-opacity="0.97"/>
<text transform="translate(699.0 1643.6) scale(0.8 1)" font-size="43" textLength="248.1" lengthAdjust="spacing" fill="#000" stroke="#000" stroke-width="1.46" stroke-linejoin="round">Generation</text>
<text x="922.0" y="1641.0" font-size="40" textLength="9.0" lengthAdjust="spacingAndGlyphs" fill="#000" stroke="#000" stroke-width="2.2" stroke-linejoin="round">:</text>
<text x="1500.4" y="1643.6" font-size="37" textLength="548.8" lengthAdjust="spacingAndGlyphs" fill="#000" stroke="#000" stroke-width="0.8" stroke-linejoin="round" direction="rtl" lang="ar">يستخدم هذه المعرفة في توليد إجابات</text>
<g>
<path d="M629.5 1733Q745 1650 866 1731L852 1750Q744 1676 636 1743.5Q626.5 1745 629.5 1733Z" fill="#b380e0"/>
<path d="M858.5 1710.5L870 1746L822 1750" fill="none" stroke="#b380e0" stroke-width="20" stroke-linecap="round" stroke-linejoin="round"/>
</g>
<g transform="translate(1847.2 0) scale(-1 1)">
<path d="M629.5 1733Q745 1650 866 1731L852 1750Q744 1676 636 1743.5Q626.5 1745 629.5 1733Z" fill="#b380e0"/>
<path d="M858.5 1710.5L870 1746L822 1750" fill="none" stroke="#b380e0" stroke-width="20" stroke-linecap="round" stroke-linejoin="round"/>
</g>
<text x="750.5" y="1786.7" font-size="44" textLength="165.7" lengthAdjust="spacingAndGlyphs" fill="#000" direction="rtl" lang="ar">اذا اعجبك</text>
<text x="1444.8" y="1786.7" font-size="44" textLength="379.1" lengthAdjust="spacingAndGlyphs" fill="#000" direction="rtl" lang="ar">كن سبب لمنفعة غيرك</text>
<path d="M836.5 1786.7H909.5Q921 1786.7 921 1798.2V1840.8Q921 1852.3 909.5 1852.3H889.5L874.6 1866.5Q872.7 1868.3 870.8 1866.5L856.5 1852.3H836.5Q825 1852.3 825 1840.8V1798.2Q825 1786.7 836.5 1786.7Z" fill="#8c35cd"/>
<path d="M860.2 1834.8C855 1830 844.7 1823 844.7 1815.8C844.7 1811 848.3 1807.9 852.4 1807.9C855.6 1807.9 858.6 1809.6 860.2 1812.6C861.8 1809.6 864.8 1807.9 868 1807.9C872.1 1807.9 875.7 1811 875.7 1815.8C875.7 1823 865.4 1830 860.2 1834.8Z" fill="#fff"/>
<text x="882.5" y="1831.4" font-size="30.5" textLength="14.5" lengthAdjust="spacingAndGlyphs" fill="#fff" font-weight="bold">1</text>
<rect x="938.9" y="1785.2" width="70.1" height="70.2" rx="8" fill="#8c35cd"/>
<g fill="none" stroke="#fff" stroke-width="4.3" stroke-linecap="round" stroke-linejoin="round">
<path d="M981.7 1840.2H963Q954.5 1840.2 954.5 1832V1801.5M944.7 1810.6L954.5 1800.8L964.2 1810.6"/>
<path d="M966.9 1800.7H985Q993.4 1800.7 993.4 1809V1840M983.7 1831.4L993.4 1840.8L1003.5 1831.4"/>
</g>
<text x="409.8" y="1797.3" font-size="44" textLength="245.3" lengthAdjust="spacingAndGlyphs" fill="#222" direction="rtl" lang="ar">كتابة وتصميم:</text>
<text transform="translate(137.5 1854.0) scale(0.8 1)" font-size="40" textLength="371.9" lengthAdjust="spacing" fill="#222" stroke="#222" stroke-width="1.36" stroke-linejoin="round">@alaa_elkzaz73</text>
<rect x="1624.7" y="1709.6" width="265.2" height="104.9" rx="3" fill="#000"/>
<text x="1858.5" y="1785.0" font-size="58" textLength="219.5" lengthAdjust="spacingAndGlyphs" fill="#fff" font-weight="bold" font-style="italic" stroke="#fff" stroke-width="2" stroke-linejoin="round" direction="rtl" lang="ar">اقرأ-تِك</text>
<text x="1620.5" y="1854.3" font-size="32.5" textLength="278.0" lengthAdjust="spacing" fill="#111">eqraatech.com</text>
<rect x="0" y="1902.3" width="2000" height="97.7" fill="#000"/>
<circle cx="66.8" cy="1950" r="27.5" fill="#fff"/>
<path d="M60.5 1977.5V1957.5H54.5V1950H60.5V1945.5Q60.5 1933.5 72 1933.5Q75.5 1933.5 78.3 1934V1940.8H74.5Q69.5 1940.8 69.5 1945.8V1950H78L76.8 1957.5H69.5V1977.5Z" fill="#000"/>
<path d="M112 1925.2H127.5L140.2 1943.3L155.8 1925.2H160.3L142.2 1946.2L161.6 1976.4H146.2L132.6 1957L115.9 1976.4H111.4L130.6 1954.1ZM118.2 1928.6L147.9 1973H155.4L125.7 1928.6Z" fill="#fff" fill-rule="evenodd"/>
<path d="M183 1931.5Q205 1929.5 227 1931.5Q235.5 1932.5 236 1941Q237.2 1952.5 236 1964Q235.5 1972.5 227 1973.3Q205 1975.3 183 1973.3Q174.500 1972.5 174 1964Q172.8 1952.5 174 1941Q174.500 1932.5 183 1931.5Z" fill="#fff"/>
<path d="M199 1942.4L215.4 1952L199 1961.7Z" fill="#000"/>
<circle cx="279.7" cy="1952.2" r="26.9" fill="#fff"/>
<circle cx="268" cy="1940" r="3.6" fill="#000"/>
<path d="M265 1946.5H271V1966H265ZM275 1946.5H280.8V1949.2Q283 1946 287.5 1946Q294.8 1946 294.8 1954.5V1966H288.8V1955.5Q288.8 1951.2 285.3 1951.2Q281 1951.2 281 1955.8V1966H275Z" fill="#000"/>
<circle cx="349.6" cy="1951.9" r="28.8" fill="#fff"/>
<path d="M331.7 1953L362.8 1941L358.1 1966.2L345.3 1957.7L355 1947.2L340.7 1955.8Z" fill="#000" stroke="#000" stroke-width="1.6" stroke-linejoin="round"/>
<path transform="translate(390.7 1922.6) scale(3.46)" fill="#fff" d="M8 0C3.58 0 0 3.58 0 8c0 3.54 2.29 6.53 5.47 7.59.4.07.55-.17.55-.38 0-.19-.01-.82-.01-1.49-2.01.37-2.53-.49-2.69-.94-.09-.23-.48-.94-.82-1.13-.28-.15-.68-.52-.01-.53.63-.01 1.08.58 1.23.82.72 1.21 1.87.87 2.33.66.07-.52.28-.87.51-1.07-1.78-.2-3.64-.89-3.64-3.95 0-.87.31-1.59.82-2.15-.08-.2-.36-1.02.08-2.12 0 0 .67-.21 2.2.82.64-.18 1.32-.27 2-.27.68 0 1.36.09 2 .27 1.53-1.04 2.2-.82 2.2-.82.44 1.1.16 1.92.08 2.12.51.56.82 1.27.82 2.15 0 3.07-1.87 3.75-3.65 3.95.29.25.54.73.54 1.48 0 1.07-.01 1.93-.01 2.2 0 .21.15.46.55.38A8.013 8.013 0 0016 8c0-4.42-3.58-8-8-8z"/>
<text x="465.0" y="1966.4" font-size="47.5" textLength="308.0" lengthAdjust="spacingAndGlyphs" fill="#fff">/eqraatechcom</text>
<text x="1194.2" y="1965.8" font-size="40.5" textLength="756.8" lengthAdjust="spacingAndGlyphs" fill="#fff" font-weight="bold">WWW.NEWSLETTER.EQRAATECH.COM</text>
</svg>
</body>
</html>
